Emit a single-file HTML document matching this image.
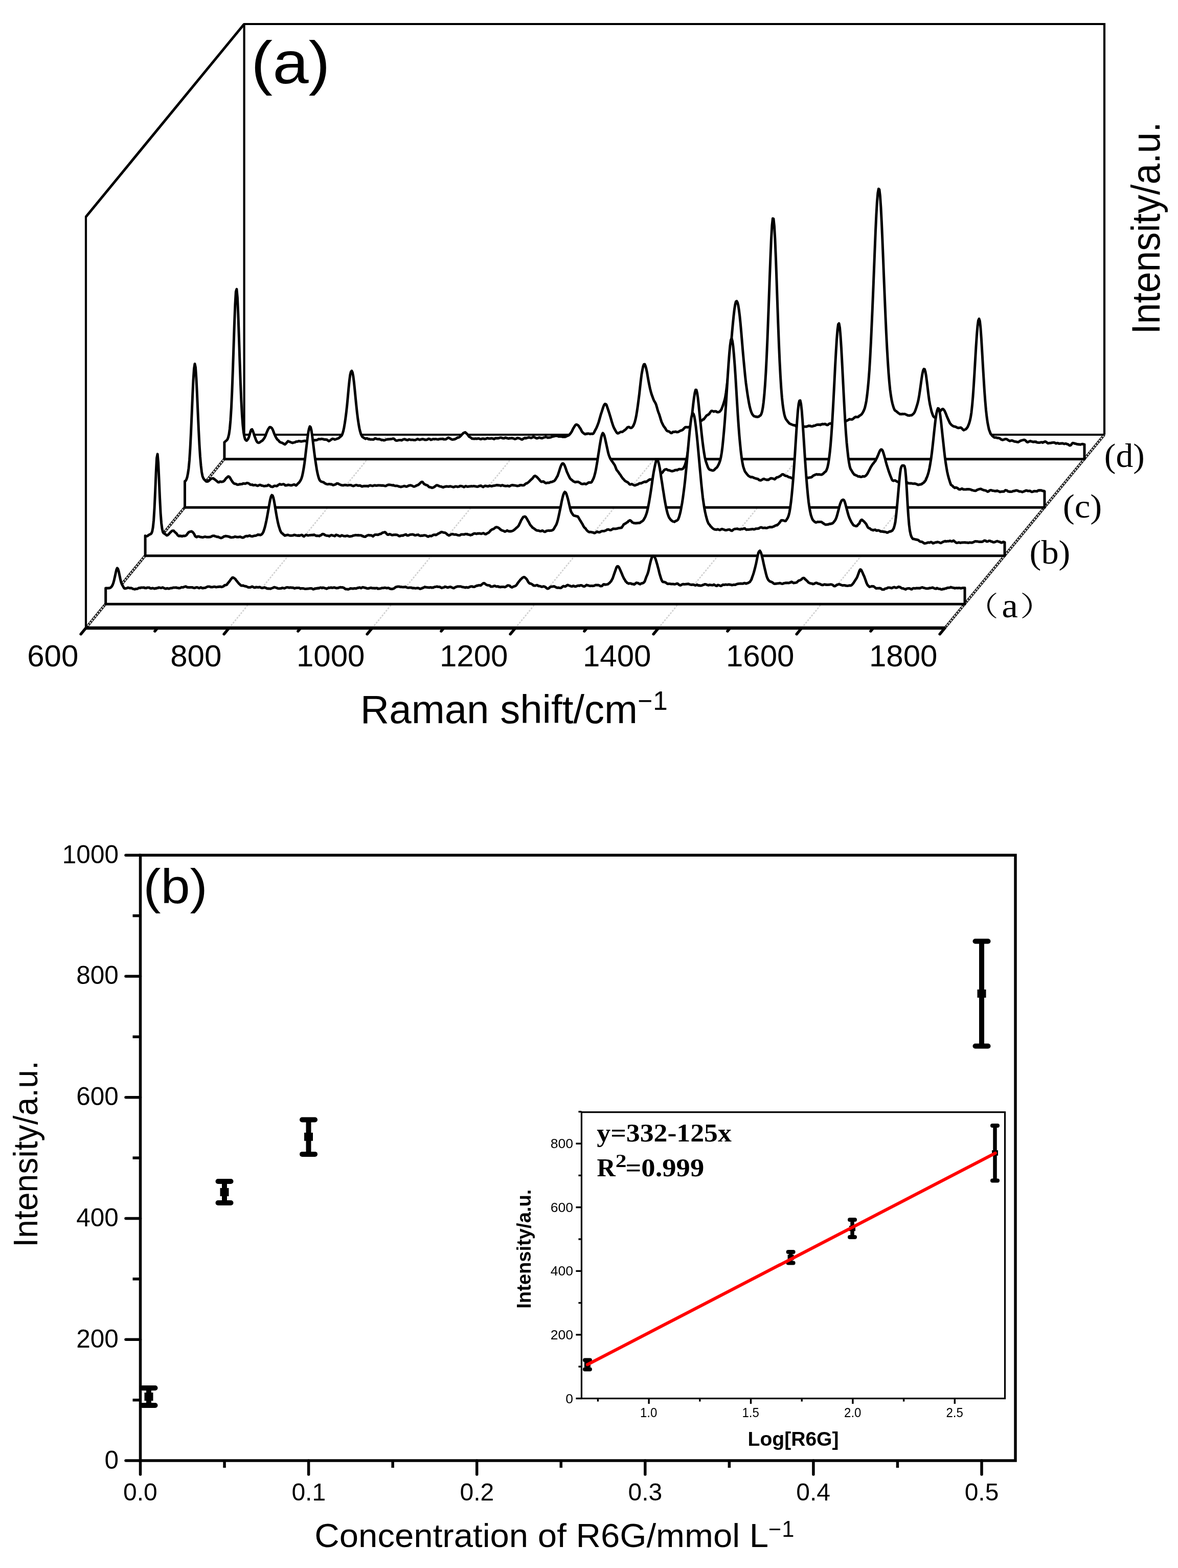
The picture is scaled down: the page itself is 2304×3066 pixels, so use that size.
<!DOCTYPE html>
<html><head><meta charset="utf-8"><title>Figure</title>
<style>html,body{margin:0;padding:0;background:#fff;}svg{display:block;}</style></head>
<body><svg width="2304" height="3066" viewBox="0 0 2304 3066">
<rect width="2304" height="3066" fill="#fff"/>
<polyline points="168.0,1228.0 168.0,424 477.6,47.0 2160.0,47.0 2160.0,850.0" fill="none" stroke="#000" stroke-width="4.2" stroke-linejoin="miter"/>
<line x1="168.00" y1="424.00" x2="477.60" y2="47.00" stroke="#000" stroke-width="5.0" stroke-linecap="butt" />
<line x1="477.60" y1="47.00" x2="477.60" y2="850.00" stroke="#000" stroke-width="4.2" stroke-linecap="butt" />
<line x1="448.00" y1="1228.00" x2="758.00" y2="850.00" stroke="#d0d0d0" stroke-width="2.6" stroke-linecap="butt" stroke-dasharray="3.5 2.5"/>
<line x1="728.00" y1="1228.00" x2="1038.40" y2="850.00" stroke="#d0d0d0" stroke-width="2.6" stroke-linecap="butt" stroke-dasharray="3.5 2.5"/>
<line x1="1008.00" y1="1228.00" x2="1318.80" y2="850.00" stroke="#d0d0d0" stroke-width="2.6" stroke-linecap="butt" stroke-dasharray="3.5 2.5"/>
<line x1="1288.00" y1="1228.00" x2="1599.20" y2="850.00" stroke="#d0d0d0" stroke-width="2.6" stroke-linecap="butt" stroke-dasharray="3.5 2.5"/>
<line x1="1568.00" y1="1228.00" x2="1879.60" y2="850.00" stroke="#d0d0d0" stroke-width="2.6" stroke-linecap="butt" stroke-dasharray="3.5 2.5"/>
<line x1="168.00" y1="1228.00" x2="477.60" y2="850.00" stroke="#000" stroke-width="5" stroke-linecap="butt" />
<line x1="168.00" y1="1228.00" x2="477.60" y2="850.00" stroke="#d2d2d2" stroke-width="3.0" stroke-linecap="butt" stroke-dasharray="3.5 2.2"/>
<line x1="1848.00" y1="1228.00" x2="2160.00" y2="850.00" stroke="#000" stroke-width="5" stroke-linecap="butt" />
<line x1="1848.00" y1="1228.00" x2="2160.00" y2="850.00" stroke="#d2d2d2" stroke-width="3.0" stroke-linecap="butt" stroke-dasharray="3.5 2.2"/>
<line x1="477.60" y1="850.00" x2="2160.00" y2="850.00" stroke="#000" stroke-width="4.2" stroke-linecap="butt" />
<path d="M438.9,897.8 L438.9,864.9 440.4,863.5 441.9,862.1 443.4,860.9 444.9,859.2 446.4,855.1 447.9,849.0 449.4,838.3 450.9,821.5 452.4,797.5 453.9,764.5 455.4,724.2 456.9,679.3 458.4,634.1 459.9,596.0 461.4,570.2 462.9,565.4 464.4,581.7 465.9,615.5 467.4,659.3 468.9,705.6 470.4,749.0 471.9,784.0 473.4,811.5 474.9,831.6 476.4,845.3 477.9,853.6 479.4,858.8 480.9,860.9 482.4,861.6 483.9,860.0 485.4,858.0 486.9,854.5 488.4,849.2 489.9,844.0 491.4,840.2 492.9,839.5 494.4,842.4 495.9,846.5 497.4,851.3 498.9,855.4 500.4,859.4 501.9,862.8 503.4,864.8 504.9,865.7 506.4,865.7 507.9,865.0 509.4,863.9 510.9,862.8 512.4,862.1 513.9,860.7 515.4,858.7 516.9,856.7 518.4,853.9 519.9,850.4 521.4,846.2 522.9,842.7 524.4,839.4 525.9,837.3 527.4,835.3 528.9,835.2 530.4,836.1 531.9,837.4 533.4,840.1 534.9,844.0 536.4,848.0 537.9,851.4 539.4,854.6 540.9,857.2 542.4,859.4 543.9,860.3 545.4,862.2 546.9,864.0 548.4,864.7 549.9,865.4 551.4,865.7 552.9,866.5 554.4,867.5 555.9,868.2 557.4,869.0 558.9,867.6 560.4,866.0 561.9,864.2 563.4,862.6 564.9,863.4 566.4,863.7 567.9,864.4 569.4,865.1 570.9,865.5 572.4,866.1 573.9,865.4 575.4,865.1 576.9,864.8 578.4,863.9 579.9,863.4 581.4,863.6 582.9,862.9 584.4,862.5 585.9,862.7 587.4,862.8 588.9,863.3 590.4,863.1 591.9,862.7 593.4,862.5 594.9,862.1 596.4,862.1 597.9,862.5 599.4,862.1 600.9,862.6 602.4,861.9 603.9,861.5 605.4,861.0 606.9,860.8 608.4,860.8 609.9,860.5 611.4,860.2 612.9,860.7 614.4,861.2 615.9,860.6 617.4,860.8 618.9,860.5 620.4,860.1 621.9,859.3 623.4,858.6 624.9,858.8 626.4,858.8 627.9,858.3 629.4,858.3 630.9,858.4 632.4,858.9 633.9,859.4 635.4,859.2 636.9,859.7 638.4,859.6 639.9,860.0 641.4,861.3 642.9,862.5 644.4,862.1 645.9,860.9 647.4,859.8 648.9,858.7 650.4,857.9 651.9,858.3 653.4,858.7 654.9,859.4 656.4,859.0 657.9,858.5 659.4,857.9 660.9,857.4 662.4,856.7 663.9,855.5 665.4,854.0 666.9,853.1 668.4,851.4 669.9,847.9 671.4,843.1 672.9,836.2 674.4,827.4 675.9,817.1 677.4,805.2 678.9,791.5 680.4,775.4 681.9,758.8 683.4,744.1 684.9,732.8 686.4,727.0 687.9,725.2 689.4,728.2 690.9,735.8 692.4,747.7 693.9,762.6 695.4,778.1 696.9,792.9 698.4,807.0 699.9,818.9 701.4,829.0 702.9,837.5 704.4,843.8 705.9,848.7 707.4,851.9 708.9,854.4 710.4,855.2 711.9,856.4 713.4,857.1 714.9,858.1 716.4,857.2 717.9,857.1 719.4,857.9 720.9,858.9 722.4,858.5 723.9,859.2 725.4,859.2 726.9,859.2 728.4,859.2 729.9,859.6 731.4,858.9 732.9,857.4 734.4,857.1 735.9,858.0 737.4,858.4 738.9,858.7 740.4,858.7 741.9,858.4 743.4,859.2 744.9,859.7 746.4,860.5 747.9,860.1 749.4,860.5 750.9,861.1 752.4,860.8 753.9,860.2 755.4,859.3 756.9,859.3 758.4,858.8 759.9,858.9 761.4,858.7 762.9,858.8 764.4,858.5 765.9,858.5 767.4,858.0 768.9,857.6 770.4,858.0 771.9,859.1 773.4,860.8 774.9,861.5 776.4,861.5 777.9,861.1 779.4,860.8 780.9,860.6 782.4,860.5 783.9,860.5 785.4,861.1 786.9,860.3 788.4,859.3 789.9,858.9 791.4,858.8 792.9,859.1 794.4,860.0 795.9,860.3 797.4,860.7 798.9,859.6 800.4,859.2 801.9,859.7 803.4,859.9 804.9,860.1 806.4,860.0 807.9,859.9 809.4,860.6 810.9,860.5 812.4,860.4 813.9,859.8 815.4,858.9 816.9,858.3 818.4,859.2 819.9,859.7 821.4,859.9 822.9,859.3 824.4,859.1 825.9,858.6 827.4,858.7 828.9,858.9 830.4,859.9 831.9,859.8 833.4,860.0 834.9,859.7 836.4,859.1 837.9,857.9 839.4,858.2 840.9,858.6 842.4,859.9 843.9,859.7 845.4,859.1 846.9,858.6 848.4,858.6 849.9,858.9 851.4,858.4 852.9,858.6 854.4,858.9 855.9,859.1 857.4,859.2 858.9,858.5 860.4,858.6 861.9,858.2 863.4,858.2 864.9,858.3 866.4,858.1 867.9,859.1 869.4,858.9 870.9,859.1 872.4,858.8 873.9,857.7 875.4,856.6 876.9,855.8 878.4,856.4 879.9,857.2 881.4,858.0 882.9,859.1 884.4,859.4 885.9,859.6 887.4,858.9 888.9,859.1 890.4,858.3 891.9,857.7 893.4,856.6 894.9,855.6 896.4,855.6 897.9,855.0 899.4,854.0 900.9,852.5 902.4,851.0 903.9,849.2 905.4,847.7 906.9,846.3 908.4,845.9 909.9,845.3 911.4,846.8 912.9,848.0 914.4,849.5 915.9,851.6 917.4,853.7 918.9,854.5 920.4,855.5 921.9,856.5 923.4,857.8 924.9,857.8 926.4,858.0 927.9,857.8 929.4,857.9 930.9,857.5 932.4,858.1 933.9,857.6 935.4,857.3 936.9,857.5 938.4,858.1 939.9,858.7 941.4,858.6 942.9,857.8 944.4,857.7 945.9,857.7 947.4,858.5 948.9,858.2 950.4,858.0 951.9,857.2 953.4,856.7 954.9,857.0 956.4,857.6 957.9,857.5 959.4,857.5 960.9,856.9 962.4,857.2 963.9,857.5 965.4,858.2 966.9,858.4 968.4,857.0 969.9,856.7 971.4,856.9 972.9,856.7 974.4,857.0 975.9,856.6 977.4,855.9 978.9,855.8 980.4,855.8 981.9,856.3 983.4,856.9 984.9,857.0 986.4,856.9 987.9,856.0 989.4,855.7 990.9,856.8 992.4,856.8 993.9,857.4 995.4,857.5 996.9,856.8 998.4,856.9 999.9,856.8 1001.4,856.6 1002.9,857.0 1004.4,857.3 1005.9,858.2 1007.4,858.4 1008.9,858.1 1010.4,857.2 1011.9,856.3 1013.4,856.8 1014.9,856.8 1016.4,857.5 1017.9,858.0 1019.4,859.1 1020.9,859.4 1022.4,858.7 1023.9,857.5 1025.4,857.1 1026.9,856.0 1028.4,857.1 1029.9,856.3 1031.4,855.9 1032.9,855.7 1034.4,855.1 1035.9,855.6 1037.4,856.0 1038.9,856.3 1040.4,855.9 1041.9,854.7 1043.4,854.5 1044.9,854.8 1046.4,855.5 1047.9,856.3 1049.4,857.1 1050.9,856.9 1052.4,856.4 1053.9,855.8 1055.4,855.5 1056.9,856.2 1058.4,856.4 1059.9,856.9 1061.4,856.4 1062.9,855.8 1064.4,855.2 1065.9,854.9 1067.4,854.5 1068.9,854.9 1070.4,855.2 1071.9,856.0 1073.4,855.5 1074.9,855.4 1076.4,855.2 1077.9,854.9 1079.4,854.1 1080.9,853.7 1082.4,853.3 1083.9,853.1 1085.4,852.7 1086.9,852.3 1088.4,852.1 1089.9,852.5 1091.4,853.0 1092.9,853.6 1094.4,853.4 1095.9,853.5 1097.4,853.3 1098.9,853.9 1100.4,854.2 1101.9,854.0 1103.4,854.3 1104.9,854.3 1106.4,853.9 1107.9,853.0 1109.4,852.3 1110.9,851.9 1112.4,851.0 1113.9,849.8 1115.4,847.9 1116.9,845.9 1118.4,843.6 1119.9,840.4 1121.4,837.4 1122.9,835.1 1124.4,832.5 1125.9,830.7 1127.4,830.0 1128.9,830.6 1130.4,831.4 1131.9,832.9 1133.4,835.6 1134.9,837.5 1136.4,840.3 1137.9,843.4 1139.4,845.4 1140.9,846.7 1142.4,847.9 1143.9,848.8 1145.4,848.9 1146.9,848.0 1148.4,848.4 1149.9,847.6 1151.4,847.9 1152.9,848.2 1154.4,848.7 1155.9,848.2 1157.4,848.0 1158.9,848.5 1160.4,847.9 1161.9,845.7 1163.4,842.6 1164.9,839.8 1166.4,837.1 1167.9,833.6 1169.4,829.7 1170.9,825.5 1172.4,820.2 1173.9,814.9 1175.4,809.6 1176.9,805.2 1178.4,800.4 1179.9,795.9 1181.4,792.2 1182.9,790.1 1184.4,790.0 1185.9,791.2 1187.4,795.2 1188.9,799.6 1190.4,804.1 1191.9,808.8 1193.4,813.8 1194.9,818.8 1196.4,824.0 1197.9,828.7 1199.4,833.3 1200.9,836.7 1202.4,839.5 1203.9,842.3 1205.4,844.8 1206.9,846.8 1208.4,847.4 1209.9,847.1 1211.4,845.8 1212.9,845.2 1214.4,844.4 1215.9,844.6 1217.4,844.4 1218.9,843.3 1220.4,842.1 1221.9,841.1 1223.4,839.9 1224.9,838.4 1226.4,836.4 1227.9,835.4 1229.4,835.0 1230.9,835.3 1232.4,836.3 1233.9,836.8 1235.4,836.4 1236.9,835.1 1238.4,833.1 1239.9,829.8 1241.4,825.8 1242.9,820.2 1244.4,813.1 1245.9,804.0 1247.4,793.8 1248.9,782.4 1250.4,770.6 1251.9,756.8 1253.4,743.8 1254.9,732.0 1256.4,723.5 1257.9,716.2 1259.4,712.5 1260.9,712.1 1262.4,715.5 1263.9,720.8 1265.4,727.7 1266.9,736.6 1268.4,745.0 1269.9,752.7 1271.4,759.8 1272.9,765.7 1274.4,771.0 1275.9,775.0 1277.4,779.2 1278.9,782.9 1280.4,785.5 1281.9,788.1 1283.4,791.6 1284.9,796.7 1286.4,802.3 1287.9,806.6 1289.4,810.4 1290.9,815.3 1292.4,820.3 1293.9,825.0 1295.4,828.1 1296.9,831.2 1298.4,833.9 1299.9,835.7 1301.4,837.8 1302.9,840.5 1304.4,842.3 1305.9,843.2 1307.4,843.3 1308.9,843.8 1310.4,845.1 1311.9,846.6 1313.4,846.8 1314.9,845.8 1316.4,844.4 1317.9,844.5 1319.4,844.6 1320.9,843.9 1322.4,844.2 1323.9,844.9 1325.4,844.8 1326.9,844.6 1328.4,843.4 1329.9,842.7 1331.4,841.8 1332.9,841.7 1334.4,840.9 1335.9,840.0 1337.4,838.1 1338.9,836.7 1340.4,835.2 1341.9,835.2 1343.4,835.3 1344.9,835.5 1346.4,835.2 1347.9,834.9 1349.4,834.4 1350.9,833.4 1352.4,833.2 1353.9,832.6 1355.4,831.6 1356.9,831.0 1358.4,829.8 1359.9,829.4 1361.4,828.8 1362.9,827.9 1364.4,827.3 1365.9,826.5 1367.4,825.1 1368.9,824.4 1370.4,823.4 1371.9,822.4 1373.4,821.7 1374.9,820.1 1376.4,819.9 1377.9,817.9 1379.4,815.9 1380.9,813.9 1382.4,812.1 1383.9,811.7 1385.4,810.5 1386.9,809.6 1388.4,807.2 1389.9,805.1 1391.4,803.5 1392.9,803.5 1394.4,804.0 1395.9,805.0 1397.4,804.3 1398.9,804.3 1400.4,804.2 1401.9,805.5 1403.4,805.9 1404.9,806.0 1406.4,805.5 1407.9,804.6 1409.4,802.8 1410.9,800.7 1412.4,796.9 1413.9,793.0 1415.4,788.2 1416.9,783.6 1418.4,777.4 1419.9,768.1 1421.4,756.7 1422.9,744.1 1424.4,730.5 1425.9,716.5 1427.4,700.7 1428.9,684.4 1430.4,666.7 1431.9,649.3 1433.4,633.0 1434.9,618.0 1436.4,605.0 1437.9,595.3 1439.4,589.6 1440.9,588.8 1442.4,591.5 1443.9,597.1 1445.4,606.7 1446.9,618.9 1448.4,633.9 1449.9,651.0 1451.4,669.0 1452.9,687.0 1454.4,703.6 1455.9,719.6 1457.4,734.9 1458.9,748.6 1460.4,759.7 1461.9,770.2 1463.4,779.4 1464.9,788.0 1466.4,795.4 1467.9,801.1 1469.4,805.7 1470.9,809.1 1472.4,811.4 1473.9,813.1 1475.4,814.1 1476.9,814.3 1478.4,815.1 1479.9,814.8 1481.4,815.3 1482.9,815.1 1484.4,814.4 1485.9,813.0 1487.4,812.2 1488.9,809.7 1490.4,805.2 1491.9,797.8 1493.4,786.6 1494.9,771.6 1496.4,752.2 1497.9,728.4 1499.4,699.1 1500.9,664.5 1502.4,625.7 1503.9,585.1 1505.4,542.9 1506.9,503.4 1508.4,467.8 1509.9,441.3 1511.4,427.2 1512.9,427.8 1514.4,442.0 1515.9,467.7 1517.4,503.5 1518.9,545.4 1520.4,589.7 1521.9,632.3 1523.4,671.6 1524.9,706.4 1526.4,735.2 1527.9,759.0 1529.4,777.5 1530.9,791.4 1532.4,801.8 1533.9,809.8 1535.4,815.4 1536.9,819.1 1538.4,821.2 1539.9,823.1 1541.4,825.2 1542.9,826.9 1544.4,828.3 1545.9,829.0 1547.4,829.6 1548.9,830.3 1550.4,830.9 1551.9,831.2 1553.4,831.7 1554.9,831.6 1556.4,832.9 1557.9,834.4 1559.4,834.7 1560.9,834.9 1562.4,835.0 1563.9,835.5 1565.4,834.6 1566.9,833.4 1568.4,833.5 1569.9,833.2 1571.4,833.8 1572.9,834.2 1574.4,834.3 1575.9,834.3 1577.4,834.2 1578.9,833.7 1580.4,833.2 1581.9,832.5 1583.4,832.9 1584.9,832.8 1586.4,833.6 1587.9,833.7 1589.4,833.6 1590.9,832.6 1592.4,832.5 1593.9,832.3 1595.4,831.4 1596.9,830.9 1598.4,830.4 1599.9,830.2 1601.4,830.5 1602.9,830.3 1604.4,831.0 1605.9,829.8 1607.4,829.9 1608.9,828.9 1610.4,829.6 1611.9,829.3 1613.4,829.0 1614.9,829.2 1616.4,830.7 1617.9,831.1 1619.4,830.7 1620.9,829.1 1622.4,828.5 1623.9,827.9 1625.4,828.5 1626.9,828.9 1628.4,828.5 1629.9,827.9 1631.4,827.5 1632.9,827.9 1634.4,828.0 1635.9,827.7 1637.4,827.5 1638.9,827.1 1640.4,827.8 1641.9,827.8 1643.4,827.7 1644.9,827.1 1646.4,826.3 1647.9,826.0 1649.4,825.5 1650.9,825.5 1652.4,825.0 1653.9,823.9 1655.4,823.1 1656.9,822.3 1658.4,821.4 1659.9,820.7 1661.4,819.6 1662.9,820.1 1664.4,820.1 1665.9,820.3 1667.4,819.8 1668.9,818.6 1670.4,817.2 1671.9,816.0 1673.4,815.0 1674.9,815.6 1676.4,815.2 1677.9,815.5 1679.4,814.6 1680.9,812.9 1682.4,812.3 1683.9,811.0 1685.4,809.9 1686.9,807.7 1688.4,805.1 1689.9,801.9 1691.4,797.8 1692.9,791.7 1694.4,784.2 1695.9,773.2 1697.4,759.8 1698.9,743.4 1700.4,723.5 1701.9,698.4 1703.4,669.4 1704.9,636.6 1706.4,602.6 1707.9,566.3 1709.4,528.2 1710.9,490.1 1712.4,453.0 1713.9,420.7 1715.4,394.6 1716.9,377.3 1718.4,369.2 1719.9,370.8 1721.4,383.4 1722.9,405.4 1724.4,435.0 1725.9,469.9 1727.4,507.0 1728.9,545.5 1730.4,582.6 1731.9,618.3 1733.4,651.5 1734.9,680.6 1736.4,706.2 1737.9,728.7 1739.4,746.9 1740.9,762.0 1742.4,773.0 1743.9,782.1 1745.4,788.8 1746.9,794.2 1748.4,798.7 1749.9,801.9 1751.4,803.3 1752.9,804.0 1754.4,805.5 1755.9,806.6 1757.4,808.0 1758.9,808.7 1760.4,809.9 1761.9,809.6 1763.4,809.9 1764.9,809.2 1766.4,809.8 1767.9,809.4 1769.4,809.4 1770.9,810.1 1772.4,810.8 1773.9,811.4 1775.4,812.2 1776.9,812.3 1778.4,812.7 1779.9,812.2 1781.4,812.1 1782.9,812.1 1784.4,810.9 1785.9,809.7 1787.4,808.1 1788.9,805.7 1790.4,802.1 1791.9,797.7 1793.4,792.9 1794.9,788.0 1796.4,781.4 1797.9,772.9 1799.4,762.9 1800.9,752.0 1802.4,741.1 1803.9,731.6 1805.4,724.7 1806.9,721.6 1808.4,722.0 1809.9,726.7 1811.4,735.2 1812.9,746.7 1814.4,759.0 1815.9,771.6 1817.4,782.6 1818.9,791.2 1820.4,797.8 1821.9,804.2 1823.4,808.9 1824.9,813.0 1826.4,815.1 1827.9,816.2 1829.4,816.5 1830.9,815.9 1832.4,814.2 1833.9,812.1 1835.4,809.0 1836.9,807.3 1838.4,804.8 1839.9,802.9 1841.4,801.3 1842.9,800.0 1844.4,799.7 1845.9,801.3 1847.4,803.3 1848.9,806.5 1850.4,810.0 1851.9,814.1 1853.4,817.6 1854.9,820.9 1856.4,824.1 1857.9,827.4 1859.4,829.3 1860.9,830.9 1862.4,832.0 1863.9,833.0 1865.4,833.7 1866.9,834.0 1868.4,834.4 1869.9,834.9 1871.4,835.7 1872.9,836.4 1874.4,836.9 1875.9,836.6 1877.4,836.5 1878.9,835.9 1880.4,836.8 1881.9,838.4 1883.4,840.1 1884.9,841.2 1886.4,840.3 1887.9,839.7 1889.4,839.0 1890.9,837.1 1892.4,835.2 1893.9,831.9 1895.4,828.0 1896.9,823.0 1898.4,816.3 1899.9,806.8 1901.4,793.1 1902.9,775.7 1904.4,754.4 1905.9,730.1 1907.4,704.3 1908.9,678.9 1910.4,656.5 1911.9,638.1 1913.4,626.8 1914.9,623.4 1916.4,627.7 1917.9,641.6 1919.4,662.8 1920.9,688.1 1922.4,714.6 1923.9,739.4 1925.4,763.7 1926.9,783.9 1928.4,801.3 1929.9,814.7 1931.4,825.5 1932.9,833.2 1934.4,840.1 1935.9,844.0 1937.4,848.0 1938.9,849.8 1940.4,851.9 1941.9,853.2 1943.4,854.4 1944.9,855.5 1946.4,855.5 1947.9,855.4 1949.4,856.0 1950.9,856.4 1952.4,856.3 1953.9,856.6 1955.4,857.1 1956.9,858.4 1958.4,859.4 1959.9,860.1 1961.4,860.3 1962.9,859.7 1964.4,859.2 1965.9,858.6 1967.4,858.6 1968.9,858.7 1970.4,859.7 1971.9,860.6 1973.4,861.6 1974.9,862.3 1976.4,861.9 1977.9,861.5 1979.4,861.3 1980.9,861.8 1982.4,862.7 1983.9,863.0 1985.4,863.6 1986.9,863.6 1988.4,864.0 1989.9,864.3 1991.4,864.6 1992.9,863.7 1994.4,862.9 1995.9,861.7 1997.4,861.5 1998.9,860.9 2000.4,860.6 2001.9,860.2 2003.4,860.1 2004.9,860.6 2006.4,862.0 2007.9,863.7 2009.4,864.7 2010.9,864.4 2012.4,863.4 2013.9,863.0 2015.4,862.3 2016.9,863.2 2018.4,863.3 2019.9,864.1 2021.4,864.2 2022.9,863.5 2024.4,864.1 2025.9,863.6 2027.4,865.0 2028.9,865.1 2030.4,865.5 2031.9,865.5 2033.4,865.6 2034.9,864.9 2036.4,864.8 2037.9,864.8 2039.4,865.6 2040.9,864.5 2042.4,864.2 2043.9,863.3 2045.4,863.7 2046.9,864.8 2048.4,866.0 2049.9,867.0 2051.4,866.5 2052.9,866.2 2054.4,866.3 2055.9,866.1 2057.4,865.6 2058.9,865.4 2060.4,865.3 2061.9,865.3 2063.4,865.8 2064.9,867.0 2066.4,867.1 2067.9,866.3 2069.4,866.4 2070.9,867.4 2072.4,867.5 2073.9,867.0 2075.4,867.2 2076.9,866.8 2078.4,866.9 2079.9,867.4 2081.4,868.1 2082.9,867.7 2084.4,867.3 2085.9,867.8 2087.4,868.6 2088.9,868.8 2090.4,869.9 2091.9,871.1 2093.4,871.0 2094.9,870.0 2096.4,867.6 2097.9,866.3 2099.4,866.5 2100.9,866.7 2102.4,867.5 2103.9,867.4 2105.4,868.2 2106.9,868.4 2108.4,868.9 2109.9,868.7 2111.4,869.0 2112.9,869.4 2114.4,868.8 2115.9,868.4 2117.4,868.2 2118.9,868.7 2121.0,869.0 L2121.0,897.8 Z" fill="#fff" stroke="#000" stroke-width="5.0" stroke-linejoin="round"/>
<path d="M361.5,992.3 L361.5,940.9 363.0,940.4 364.5,937.7 366.0,933.4 367.5,926.1 369.0,915.8 370.5,899.9 372.0,876.7 373.5,846.7 375.0,811.6 376.5,776.0 378.0,744.0 379.5,721.1 381.0,711.5 382.5,718.6 384.0,740.9 385.5,771.5 387.0,806.5 388.5,840.1 390.0,869.7 391.5,893.0 393.0,910.2 394.5,922.9 396.0,930.8 397.5,934.6 399.0,937.3 400.5,938.4 402.0,940.3 403.5,941.4 405.0,941.5 406.5,941.5 408.0,940.5 409.5,939.2 411.0,937.7 412.5,936.3 414.0,935.8 415.5,935.4 417.0,935.3 418.5,936.5 420.0,937.4 421.5,938.7 423.0,939.8 424.5,941.1 426.0,942.6 427.5,943.0 429.0,942.7 430.5,941.6 432.0,941.9 433.5,942.3 435.0,941.9 436.5,941.5 438.0,940.6 439.5,939.0 441.0,936.9 442.5,934.8 444.0,933.9 445.5,932.1 447.0,931.6 448.5,932.4 450.0,934.3 451.5,937.1 453.0,939.5 454.5,941.9 456.0,943.8 457.5,945.3 459.0,945.9 460.5,946.1 462.0,946.4 463.5,947.5 465.0,947.8 466.5,947.6 468.0,947.1 469.5,946.6 471.0,947.0 472.5,946.5 474.0,946.4 475.5,945.3 477.0,945.4 478.5,945.7 480.0,945.8 481.5,944.8 483.0,944.4 484.5,944.4 486.0,945.2 487.5,945.8 489.0,947.3 490.5,947.8 492.0,947.9 493.5,947.6 495.0,948.8 496.5,948.8 498.0,948.6 499.5,948.3 501.0,948.9 502.5,949.5 504.0,949.9 505.5,949.3 507.0,948.6 508.5,948.1 510.0,948.4 511.5,949.5 513.0,949.5 514.5,950.0 516.0,950.4 517.5,950.6 519.0,950.1 520.5,950.1 522.0,949.9 523.5,949.2 525.0,948.0 526.5,949.0 528.0,949.8 529.5,951.4 531.0,951.6 532.5,952.0 534.0,951.7 535.5,950.5 537.0,949.9 538.5,950.1 540.0,950.2 541.5,950.4 543.0,949.4 544.5,948.0 546.0,947.4 547.5,946.5 549.0,947.5 550.5,947.5 552.0,947.2 553.5,946.8 555.0,946.7 556.5,947.8 558.0,949.2 559.5,948.9 561.0,948.9 562.5,948.2 564.0,948.0 565.5,948.4 567.0,948.6 568.5,949.0 570.0,949.1 571.5,948.5 573.0,948.1 574.5,947.4 576.0,947.4 577.5,948.6 579.0,949.2 580.5,948.0 582.0,946.3 583.5,944.8 585.0,943.5 586.5,941.4 588.0,939.0 589.5,935.8 591.0,931.0 592.5,924.1 594.0,915.8 595.5,905.9 597.0,894.0 598.5,880.9 600.0,868.2 601.5,855.3 603.0,845.3 604.5,838.0 606.0,833.9 607.5,835.3 609.0,841.1 610.5,851.1 612.0,862.9 613.5,875.1 615.0,887.2 616.5,898.2 618.0,908.1 619.5,917.7 621.0,925.4 622.5,931.5 624.0,936.2 625.5,939.3 627.0,940.9 628.5,941.8 630.0,942.2 631.5,942.8 633.0,943.0 634.5,944.5 636.0,945.3 637.5,946.1 639.0,946.6 640.5,946.9 642.0,946.8 643.5,946.5 645.0,946.4 646.5,947.1 648.0,946.8 649.5,947.5 651.0,948.4 652.5,948.4 654.0,947.8 655.5,947.3 657.0,946.8 658.5,945.5 660.0,945.3 661.5,945.7 663.0,946.6 664.5,947.4 666.0,947.8 667.5,948.7 669.0,948.7 670.5,949.1 672.0,948.9 673.5,948.4 675.0,948.3 676.5,948.4 678.0,948.7 679.5,949.1 681.0,949.0 682.5,948.5 684.0,948.4 685.5,948.5 687.0,948.8 688.5,949.6 690.0,950.0 691.5,950.3 693.0,949.6 694.5,949.0 696.0,948.5 697.5,948.4 699.0,949.2 700.5,949.7 702.0,949.4 703.5,949.2 705.0,949.7 706.5,950.5 708.0,951.3 709.5,950.8 711.0,950.7 712.5,950.2 714.0,950.4 715.5,950.2 717.0,950.4 718.5,950.3 720.0,950.9 721.5,949.8 723.0,949.4 724.5,949.0 726.0,949.5 727.5,950.0 729.0,950.0 730.5,949.6 732.0,949.0 733.5,948.9 735.0,949.5 736.5,949.6 738.0,949.3 739.5,949.0 741.0,949.1 742.5,949.1 744.0,949.2 745.5,949.1 747.0,949.6 748.5,949.1 750.0,949.5 751.5,949.8 753.0,950.2 754.5,950.2 756.0,949.5 757.5,948.5 759.0,948.1 760.5,947.8 762.0,948.1 763.5,948.1 765.0,948.4 766.5,948.7 768.0,949.1 769.5,948.6 771.0,949.5 772.5,950.0 774.0,950.0 775.5,949.9 777.0,950.0 778.5,950.5 780.0,951.2 781.5,951.2 783.0,951.9 784.5,952.1 786.0,951.5 787.5,951.2 789.0,950.8 790.5,950.2 792.0,950.6 793.5,951.1 795.0,951.6 796.5,951.0 798.0,950.3 799.5,949.4 801.0,949.3 802.5,948.8 804.0,949.2 805.5,949.6 807.0,950.4 808.5,951.1 810.0,951.5 811.5,951.0 813.0,950.3 814.5,949.5 816.0,948.7 817.5,948.3 819.0,947.3 820.5,945.9 822.0,944.5 823.5,942.9 825.0,942.2 826.5,942.4 828.0,944.4 829.5,946.4 831.0,947.1 832.5,948.0 834.0,948.4 835.5,948.8 837.0,950.0 838.5,951.6 840.0,952.6 841.5,952.8 843.0,953.0 844.5,953.8 846.0,953.7 847.5,953.1 849.0,952.4 850.5,951.4 852.0,950.1 853.5,949.0 855.0,948.8 856.5,949.3 858.0,950.0 859.5,950.8 861.0,951.2 862.5,951.2 864.0,952.0 865.5,952.2 867.0,953.0 868.5,952.0 870.0,951.8 871.5,951.3 873.0,951.1 874.5,951.2 876.0,951.3 877.5,951.6 879.0,951.1 880.5,950.8 882.0,951.2 883.5,951.6 885.0,951.9 886.5,952.4 888.0,952.2 889.5,951.5 891.0,951.1 892.5,951.2 894.0,951.6 895.5,952.0 897.0,951.5 898.5,951.2 900.0,950.2 901.5,950.5 903.0,950.5 904.5,951.1 906.0,951.8 907.5,952.4 909.0,951.5 910.5,950.5 912.0,950.8 913.5,951.3 915.0,951.7 916.5,951.2 918.0,951.1 919.5,951.1 921.0,950.7 922.5,950.6 924.0,950.9 925.5,950.6 927.0,950.4 928.5,950.8 930.0,951.0 931.5,951.2 933.0,951.8 934.5,951.6 936.0,951.0 937.5,950.0 939.0,950.2 940.5,949.6 942.0,950.4 943.5,951.6 945.0,952.3 946.5,951.1 948.0,950.2 949.5,949.9 951.0,950.4 952.5,950.6 954.0,951.1 955.5,950.8 957.0,949.8 958.5,950.1 960.0,950.3 961.5,950.8 963.0,950.4 964.5,949.8 966.0,949.8 967.5,949.6 969.0,949.0 970.5,948.9 972.0,948.4 973.5,948.9 975.0,948.8 976.5,948.9 978.0,949.3 979.5,950.0 981.0,948.9 982.5,948.8 984.0,949.0 985.5,950.0 987.0,950.0 988.5,950.4 990.0,950.3 991.5,950.3 993.0,949.7 994.5,950.4 996.0,950.9 997.5,950.2 999.0,949.3 1000.5,948.9 1002.0,948.5 1003.5,948.9 1005.0,948.8 1006.5,949.2 1008.0,949.2 1009.5,949.8 1011.0,950.0 1012.5,950.2 1014.0,949.8 1015.5,949.7 1017.0,948.6 1018.5,948.7 1020.0,948.5 1021.5,949.0 1023.0,948.9 1024.5,948.8 1026.0,947.8 1027.5,946.3 1029.0,945.3 1030.5,945.0 1032.0,944.1 1033.5,942.9 1035.0,941.6 1036.5,940.0 1038.0,938.5 1039.5,937.2 1041.0,935.9 1042.5,934.1 1044.0,932.0 1045.5,930.7 1047.0,930.6 1048.5,931.7 1050.0,932.7 1051.5,934.2 1053.0,936.0 1054.5,937.4 1056.0,939.6 1057.5,941.1 1059.0,942.1 1060.5,941.9 1062.0,941.5 1063.5,941.7 1065.0,943.2 1066.5,944.2 1068.0,944.8 1069.5,944.2 1071.0,943.9 1072.5,944.0 1074.0,943.9 1075.5,943.2 1077.0,942.5 1078.5,942.6 1080.0,942.1 1081.5,941.3 1083.0,941.0 1084.5,940.0 1086.0,938.1 1087.5,935.7 1089.0,933.1 1090.5,930.6 1092.0,926.3 1093.5,921.8 1095.0,916.9 1096.5,912.6 1098.0,909.1 1099.5,906.6 1101.0,906.1 1102.5,907.1 1104.0,909.5 1105.5,913.1 1107.0,917.4 1108.5,922.0 1110.0,925.3 1111.5,928.5 1113.0,931.6 1114.5,934.7 1116.0,936.6 1117.5,938.0 1119.0,938.9 1120.5,940.4 1122.0,941.6 1123.5,941.9 1125.0,942.9 1126.5,942.5 1128.0,942.2 1129.5,942.2 1131.0,942.3 1132.5,943.1 1134.0,943.9 1135.5,945.1 1137.0,946.0 1138.5,946.3 1140.0,946.4 1141.5,946.0 1143.0,945.7 1144.5,946.0 1146.0,946.8 1147.5,946.1 1149.0,945.0 1150.5,943.9 1152.0,943.3 1153.5,943.5 1155.0,943.4 1156.5,943.3 1158.0,941.2 1159.5,938.2 1161.0,935.1 1162.5,930.7 1164.0,925.2 1165.5,918.3 1167.0,909.6 1168.5,900.8 1170.0,890.7 1171.5,881.3 1173.0,871.4 1174.5,862.8 1176.0,854.7 1177.5,849.6 1179.0,846.8 1180.5,848.4 1182.0,851.8 1183.5,857.8 1185.0,864.6 1186.5,871.5 1188.0,878.4 1189.5,885.3 1191.0,890.4 1192.5,894.1 1194.0,897.4 1195.5,899.7 1197.0,902.0 1198.5,903.8 1200.0,906.3 1201.5,908.2 1203.0,911.2 1204.5,915.0 1206.0,918.8 1207.5,920.6 1209.0,922.6 1210.5,924.6 1212.0,926.9 1213.5,928.6 1215.0,931.3 1216.5,933.4 1218.0,935.5 1219.5,936.8 1221.0,938.6 1222.5,940.3 1224.0,941.1 1225.5,942.2 1227.0,942.7 1228.5,943.6 1230.0,945.5 1231.5,947.2 1233.0,947.3 1234.5,946.9 1236.0,946.5 1237.5,947.5 1239.0,948.1 1240.5,948.9 1242.0,949.1 1243.5,948.5 1245.0,947.7 1246.5,947.5 1248.0,946.8 1249.5,945.8 1251.0,945.1 1252.5,945.1 1254.0,945.0 1255.5,944.2 1257.0,943.6 1258.5,942.7 1260.0,942.4 1261.5,941.8 1263.0,942.5 1264.5,941.9 1266.0,940.8 1267.5,939.6 1269.0,938.6 1270.5,937.6 1272.0,937.7 1273.5,937.3 1275.0,937.2 1276.5,936.4 1278.0,935.6 1279.5,934.3 1281.0,932.8 1282.5,931.9 1284.0,930.9 1285.5,929.2 1287.0,928.3 1288.5,928.0 1290.0,928.0 1291.5,926.9 1293.0,926.1 1294.5,924.8 1296.0,923.6 1297.5,921.0 1299.0,919.5 1300.5,918.2 1302.0,917.8 1303.5,917.4 1305.0,918.5 1306.5,919.4 1308.0,919.5 1309.5,919.8 1311.0,920.4 1312.5,920.9 1314.0,921.2 1315.5,921.2 1317.0,920.7 1318.5,920.4 1320.0,919.3 1321.5,919.3 1323.0,918.9 1324.5,919.4 1326.0,918.5 1327.5,917.5 1329.0,917.3 1330.5,917.4 1332.0,917.5 1333.5,917.4 1335.0,916.9 1336.5,915.8 1338.0,913.0 1339.5,909.9 1341.0,905.4 1342.5,899.2 1344.0,891.5 1345.5,882.2 1347.0,871.0 1348.5,858.2 1350.0,845.0 1351.5,831.8 1353.0,817.1 1354.5,802.5 1356.0,788.8 1357.5,777.3 1359.0,767.9 1360.5,762.3 1362.0,762.5 1363.5,768.2 1365.0,778.2 1366.5,791.6 1368.0,806.9 1369.5,821.5 1371.0,835.7 1372.5,849.9 1374.0,863.0 1375.5,874.6 1377.0,884.8 1378.5,893.7 1380.0,900.2 1381.5,904.9 1383.0,909.2 1384.5,913.3 1386.0,916.3 1387.5,918.0 1389.0,918.7 1390.5,918.9 1392.0,919.6 1393.5,920.1 1395.0,920.0 1396.5,919.3 1398.0,917.7 1399.5,916.1 1401.0,915.0 1402.5,913.7 1404.0,911.1 1405.5,908.3 1407.0,904.8 1408.5,900.4 1410.0,894.0 1411.5,885.4 1413.0,873.9 1414.5,858.9 1416.0,842.7 1417.5,824.6 1419.0,804.1 1420.5,781.0 1422.0,756.8 1423.5,732.8 1425.0,710.8 1426.5,691.2 1428.0,675.5 1429.5,664.9 1431.0,661.7 1432.5,666.9 1434.0,677.7 1435.5,694.0 1437.0,713.4 1438.5,735.6 1440.0,760.3 1441.5,785.5 1443.0,810.3 1444.5,832.0 1446.0,851.7 1447.5,867.9 1449.0,882.9 1450.5,895.0 1452.0,904.2 1453.5,911.7 1455.0,916.4 1456.5,920.7 1458.0,923.4 1459.5,925.1 1461.0,927.3 1462.5,928.9 1464.0,930.6 1465.5,931.4 1467.0,932.2 1468.5,933.0 1470.0,932.8 1471.5,932.9 1473.0,933.5 1474.5,934.4 1476.0,934.9 1477.5,935.3 1479.0,935.9 1480.5,936.1 1482.0,936.5 1483.5,937.4 1485.0,938.8 1486.5,939.2 1488.0,939.3 1489.5,938.3 1491.0,937.9 1492.5,936.7 1494.0,936.3 1495.5,936.9 1497.0,937.6 1498.5,937.9 1500.0,938.4 1501.5,938.0 1503.0,938.3 1504.5,937.1 1506.0,936.1 1507.5,935.2 1509.0,935.2 1510.5,935.5 1512.0,936.0 1513.5,936.3 1515.0,937.2 1516.5,936.1 1518.0,934.3 1519.5,933.3 1521.0,933.2 1522.5,932.9 1524.0,931.7 1525.5,931.1 1527.0,930.2 1528.5,928.6 1530.0,927.4 1531.5,927.4 1533.0,928.4 1534.5,929.5 1536.0,930.3 1537.5,930.7 1539.0,930.7 1540.5,931.6 1542.0,932.7 1543.5,933.3 1545.0,933.3 1546.5,933.9 1548.0,934.8 1549.5,934.9 1551.0,935.6 1552.5,936.8 1554.0,938.3 1555.5,938.4 1557.0,937.7 1558.5,936.6 1560.0,934.7 1561.5,933.7 1563.0,933.1 1564.5,933.0 1566.0,933.7 1567.5,933.0 1569.0,933.7 1570.5,933.3 1572.0,932.8 1573.5,932.8 1575.0,932.9 1576.5,933.9 1578.0,933.9 1579.5,934.1 1581.0,934.4 1582.5,934.0 1584.0,933.5 1585.5,933.6 1587.0,933.2 1588.5,932.2 1590.0,930.5 1591.5,929.5 1593.0,929.1 1594.5,928.1 1596.0,927.8 1597.5,927.3 1599.0,927.9 1600.5,927.9 1602.0,927.5 1603.5,928.1 1605.0,928.1 1606.5,928.3 1608.0,927.7 1609.5,926.7 1611.0,925.3 1612.5,923.7 1614.0,922.6 1615.5,921.3 1617.0,918.0 1618.5,913.7 1620.0,906.8 1621.5,896.9 1623.0,884.9 1624.5,870.0 1626.0,850.9 1627.5,828.9 1629.0,802.7 1630.5,774.8 1632.0,745.7 1633.5,715.5 1635.0,688.6 1636.5,664.0 1638.0,645.2 1639.5,634.2 1641.0,632.5 1642.5,640.7 1644.0,657.7 1645.5,680.9 1647.0,709.1 1648.5,738.5 1650.0,768.2 1651.5,796.9 1653.0,823.6 1654.5,846.2 1656.0,865.4 1657.5,880.2 1659.0,893.4 1660.5,904.1 1662.0,912.0 1663.5,916.9 1665.0,919.2 1666.5,921.7 1668.0,924.4 1669.5,926.3 1671.0,928.2 1672.5,928.5 1674.0,929.4 1675.5,929.9 1677.0,930.7 1678.5,931.8 1680.0,931.8 1681.5,931.6 1683.0,932.6 1684.5,932.5 1686.0,932.3 1687.5,931.2 1689.0,931.7 1690.5,931.8 1692.0,931.0 1693.5,930.0 1695.0,928.3 1696.5,926.3 1698.0,923.5 1699.5,920.5 1701.0,917.8 1702.5,914.6 1704.0,912.0 1705.5,909.6 1707.0,907.4 1708.5,905.8 1710.0,903.5 1711.5,902.1 1713.0,899.3 1714.5,896.4 1716.0,893.1 1717.5,889.7 1719.0,885.9 1720.5,882.4 1722.0,880.0 1723.5,878.8 1725.0,879.4 1726.5,881.7 1728.0,886.1 1729.5,891.2 1731.0,896.6 1732.5,902.5 1734.0,907.9 1735.5,912.7 1737.0,917.4 1738.5,922.2 1740.0,926.4 1741.5,930.4 1743.0,934.1 1744.5,937.7 1746.0,939.7 1747.5,940.2 1749.0,939.7 1750.5,939.3 1752.0,940.2 1753.5,940.9 1755.0,942.1 1756.5,942.3 1758.0,942.4 1759.5,942.5 1761.0,942.9 1762.5,942.8 1764.0,942.7 1765.5,942.7 1767.0,942.6 1768.5,942.6 1770.0,943.1 1771.5,943.1 1773.0,943.6 1774.5,943.4 1776.0,944.8 1777.5,945.0 1779.0,944.9 1780.5,945.3 1782.0,944.9 1783.5,945.3 1785.0,945.7 1786.5,945.8 1788.0,945.8 1789.5,945.6 1791.0,946.1 1792.5,946.4 1794.0,947.3 1795.5,948.1 1797.0,947.9 1798.5,947.5 1800.0,947.3 1801.5,947.1 1803.0,946.5 1804.5,945.1 1806.0,944.2 1807.5,943.0 1809.0,941.1 1810.5,939.0 1812.0,935.3 1813.5,931.7 1815.0,927.3 1816.5,921.9 1818.0,915.0 1819.5,906.5 1821.0,897.4 1822.5,886.1 1824.0,873.4 1825.5,859.5 1827.0,845.1 1828.5,831.4 1830.0,818.4 1831.5,809.0 1833.0,802.3 1834.5,798.4 1836.0,799.1 1837.5,803.2 1839.0,812.1 1840.5,824.0 1842.0,838.3 1843.5,852.5 1845.0,866.0 1846.5,880.0 1848.0,892.9 1849.5,904.0 1851.0,913.4 1852.5,922.2 1854.0,928.8 1855.5,934.5 1857.0,939.6 1858.5,944.3 1860.0,948.0 1861.5,949.0 1863.0,950.1 1864.5,951.9 1866.0,952.9 1867.5,954.0 1869.0,953.3 1870.5,953.4 1872.0,954.1 1873.5,955.0 1875.0,956.5 1876.5,956.9 1878.0,956.9 1879.5,956.2 1881.0,955.5 1882.5,955.8 1884.0,956.9 1885.5,956.9 1887.0,957.0 1888.5,956.9 1890.0,957.0 1891.5,956.4 1893.0,956.8 1894.5,956.6 1896.0,956.7 1897.5,956.9 1899.0,957.3 1900.5,958.3 1902.0,958.4 1903.5,959.0 1905.0,959.5 1906.5,959.5 1908.0,959.7 1909.5,959.1 1911.0,957.8 1912.5,957.4 1914.0,956.9 1915.5,956.5 1917.0,956.0 1918.5,956.0 1920.0,956.9 1921.5,957.4 1923.0,958.1 1924.5,958.5 1926.0,958.8 1927.5,959.0 1929.0,959.7 1930.5,960.8 1932.0,961.4 1933.5,960.8 1935.0,959.4 1936.5,958.6 1938.0,958.5 1939.5,958.8 1941.0,959.4 1942.5,959.6 1944.0,959.7 1945.5,960.3 1947.0,960.1 1948.5,960.2 1950.0,959.4 1951.5,960.0 1953.0,960.7 1954.5,961.2 1956.0,961.9 1957.5,961.5 1959.0,961.3 1960.5,961.1 1962.0,961.3 1963.5,961.1 1965.0,959.7 1966.5,958.6 1968.0,958.8 1969.5,959.2 1971.0,960.6 1972.5,961.0 1974.0,961.4 1975.5,961.2 1977.0,961.4 1978.5,961.4 1980.0,961.1 1981.5,960.2 1983.0,960.1 1984.5,960.0 1986.0,959.2 1987.5,958.9 1989.0,959.1 1990.5,959.6 1992.0,960.3 1993.5,960.9 1995.0,961.1 1996.5,961.0 1998.0,961.5 1999.5,962.1 2001.0,961.5 2002.5,960.8 2004.0,960.5 2005.5,959.5 2007.0,959.1 2008.5,959.3 2010.0,960.1 2011.5,960.0 2013.0,960.1 2014.5,959.8 2016.0,960.7 2017.5,961.8 2019.0,961.7 2020.5,961.3 2022.0,960.5 2023.5,960.3 2025.0,960.6 2026.5,960.4 2028.0,960.8 2029.5,959.8 2031.0,958.7 2032.5,959.2 2034.0,958.5 2035.5,959.0 2037.0,958.8 2038.5,959.7 2040.0,960.1 2041.5,959.9 2043.0,960.7 L2043.0,992.3 Z" fill="#fff" stroke="#000" stroke-width="5.0" stroke-linejoin="round"/>
<path d="M284.1,1086.8 L284.1,1047.6 285.6,1048.5 287.1,1048.4 288.6,1048.1 290.1,1046.5 291.6,1045.7 293.1,1044.8 294.6,1044.3 296.1,1043.0 297.6,1039.6 299.1,1031.8 300.6,1017.7 302.1,993.4 303.6,960.7 305.1,924.0 306.6,895.5 308.1,887.9 309.6,905.3 311.1,938.7 312.6,973.8 314.1,1003.1 315.6,1022.8 317.1,1034.2 318.6,1040.4 320.1,1042.6 321.6,1043.4 323.1,1044.4 324.6,1045.5 326.1,1046.9 327.6,1046.6 329.1,1045.3 330.6,1044.1 332.1,1042.1 333.6,1040.7 335.1,1039.2 336.6,1037.9 338.1,1037.7 339.6,1037.7 341.1,1039.5 342.6,1040.9 344.1,1042.2 345.6,1043.6 347.1,1045.9 348.6,1047.4 350.1,1048.2 351.6,1047.5 353.1,1048.3 354.6,1047.9 356.1,1048.7 357.6,1047.9 359.1,1047.8 360.6,1048.0 362.1,1047.8 363.6,1047.1 365.1,1045.9 366.6,1043.6 368.1,1041.7 369.6,1040.3 371.1,1039.7 372.6,1039.6 374.1,1038.9 375.6,1039.5 377.1,1040.7 378.6,1042.5 380.1,1044.9 381.6,1048.2 383.1,1049.6 384.6,1050.3 386.1,1049.0 387.6,1049.1 389.1,1048.9 390.6,1049.7 392.1,1050.1 393.6,1050.2 395.1,1050.4 396.6,1050.8 398.1,1050.2 399.6,1049.8 401.1,1049.4 402.6,1049.8 404.1,1050.2 405.6,1050.2 407.1,1050.3 408.6,1050.2 410.1,1050.0 411.6,1049.9 413.1,1049.3 414.6,1048.3 416.1,1047.7 417.6,1047.7 419.1,1047.7 420.6,1048.6 422.1,1048.9 423.6,1049.5 425.1,1049.9 426.6,1049.6 428.1,1050.5 429.6,1051.1 431.1,1051.7 432.6,1052.0 434.1,1051.4 435.6,1050.7 437.1,1049.7 438.6,1048.7 440.1,1048.7 441.6,1048.0 443.1,1048.5 444.6,1048.8 446.1,1048.8 447.6,1049.6 449.1,1049.4 450.6,1050.8 452.1,1050.7 453.6,1050.9 455.1,1050.6 456.6,1050.6 458.1,1049.9 459.6,1049.3 461.1,1049.6 462.6,1050.1 464.1,1050.2 465.6,1050.3 467.1,1050.1 468.6,1049.8 470.1,1049.6 471.6,1050.4 473.1,1051.0 474.6,1051.3 476.1,1051.1 477.6,1050.2 479.1,1049.2 480.6,1048.4 482.1,1048.1 483.6,1048.7 485.1,1048.1 486.6,1048.0 488.1,1047.0 489.6,1047.9 491.1,1048.6 492.6,1048.7 494.1,1048.8 495.6,1048.1 497.1,1047.8 498.6,1047.6 500.1,1047.5 501.6,1046.9 503.1,1046.1 504.6,1045.3 506.1,1045.9 507.6,1045.6 509.1,1046.3 510.6,1045.7 512.1,1044.6 513.6,1042.7 515.1,1040.1 516.6,1035.6 518.1,1030.8 519.6,1024.4 521.1,1017.5 522.6,1009.7 524.1,1001.2 525.6,992.9 527.1,984.1 528.6,976.5 530.1,970.8 531.6,968.2 533.1,969.0 534.6,972.9 536.1,979.7 537.6,988.3 539.1,997.5 540.6,1006.5 542.1,1014.6 543.6,1021.9 545.1,1028.1 546.6,1032.7 548.1,1037.5 549.6,1040.4 551.1,1042.5 552.6,1043.2 554.1,1045.0 555.6,1045.9 557.1,1047.3 558.6,1046.8 560.1,1046.5 561.6,1046.1 563.1,1045.9 564.6,1046.5 566.1,1047.0 567.6,1047.3 569.1,1047.3 570.6,1047.3 572.1,1047.1 573.6,1046.8 575.1,1046.0 576.6,1046.1 578.1,1046.5 579.6,1047.1 581.1,1046.9 582.6,1047.6 584.1,1046.7 585.6,1047.6 587.1,1046.8 588.6,1046.4 590.1,1045.9 591.6,1046.6 593.1,1048.3 594.6,1048.9 596.1,1047.5 597.6,1046.5 599.1,1045.8 600.6,1046.4 602.1,1047.1 603.6,1046.9 605.1,1046.6 606.6,1046.5 608.1,1046.2 609.6,1046.3 611.1,1046.0 612.6,1046.2 614.1,1045.5 615.6,1046.2 617.1,1046.9 618.6,1047.8 620.1,1047.5 621.6,1047.8 623.1,1047.7 624.6,1048.2 626.1,1047.0 627.6,1046.6 629.1,1045.6 630.6,1044.2 632.1,1044.3 633.6,1044.7 635.1,1046.0 636.6,1046.6 638.1,1047.1 639.6,1047.5 641.1,1047.6 642.6,1047.7 644.1,1048.6 645.6,1047.3 647.1,1046.7 648.6,1046.2 650.1,1046.8 651.6,1047.3 653.1,1047.6 654.6,1048.3 656.1,1047.0 657.6,1045.7 659.1,1046.3 660.6,1046.7 662.1,1047.5 663.6,1048.1 665.1,1048.6 666.6,1048.0 668.1,1046.8 669.6,1047.0 671.1,1047.7 672.6,1048.3 674.1,1048.3 675.6,1048.5 677.1,1047.9 678.6,1047.6 680.1,1047.7 681.6,1048.4 683.1,1048.9 684.6,1049.0 686.1,1048.6 687.6,1048.5 689.1,1048.1 690.6,1047.3 692.1,1047.0 693.6,1046.7 695.1,1046.3 696.6,1046.4 698.1,1046.4 699.6,1046.8 701.1,1046.3 702.6,1046.8 704.1,1046.8 705.6,1046.8 707.1,1047.0 708.6,1048.2 710.1,1048.3 711.6,1049.3 713.1,1049.5 714.6,1049.5 716.1,1048.3 717.6,1047.5 719.1,1046.8 720.6,1046.2 722.1,1046.4 723.6,1046.9 725.1,1046.6 726.6,1047.0 728.1,1047.9 729.6,1048.8 731.1,1047.2 732.6,1045.9 734.1,1045.4 735.6,1045.4 737.1,1045.5 738.6,1045.8 740.1,1045.5 741.6,1044.6 743.1,1044.1 744.6,1044.1 746.1,1043.1 747.6,1041.9 749.1,1041.3 750.6,1041.2 752.1,1040.6 753.6,1040.8 755.1,1042.4 756.6,1044.3 758.1,1045.4 759.6,1045.6 761.1,1044.6 762.6,1044.6 764.1,1045.0 765.6,1046.1 767.1,1046.3 768.6,1046.2 770.1,1045.7 771.6,1045.7 773.1,1045.6 774.6,1045.7 776.1,1045.7 777.6,1046.3 779.1,1047.2 780.6,1048.3 782.1,1048.3 783.6,1047.5 785.1,1047.3 786.6,1047.1 788.1,1047.3 789.6,1046.3 791.1,1045.9 792.6,1045.4 794.1,1045.0 795.6,1046.6 797.1,1047.1 798.6,1047.0 800.1,1046.3 801.6,1045.6 803.1,1045.3 804.6,1045.2 806.1,1045.1 807.6,1045.1 809.1,1045.5 810.6,1046.4 812.1,1046.7 813.6,1046.4 815.1,1045.9 816.6,1045.8 818.1,1045.6 819.6,1046.7 821.1,1047.4 822.6,1047.8 824.1,1047.2 825.6,1047.5 827.1,1047.3 828.6,1046.8 830.1,1046.7 831.6,1046.7 833.1,1047.3 834.6,1047.9 836.1,1049.0 837.6,1049.4 839.1,1048.4 840.6,1048.0 842.1,1047.9 843.6,1048.3 845.1,1047.5 846.6,1046.5 848.1,1045.7 849.6,1045.7 851.1,1045.6 852.6,1046.2 854.1,1045.3 855.6,1044.4 857.1,1043.5 858.6,1042.8 860.1,1042.1 861.6,1041.1 863.1,1040.3 864.6,1040.5 866.1,1040.9 867.6,1041.3 869.1,1041.6 870.6,1041.7 872.1,1042.6 873.6,1043.9 875.1,1045.3 876.6,1046.2 878.1,1047.1 879.6,1046.4 881.1,1045.4 882.6,1044.8 884.1,1044.4 885.6,1044.3 887.1,1044.8 888.6,1045.3 890.1,1045.2 891.6,1045.1 893.1,1045.6 894.6,1046.1 896.1,1046.5 897.6,1046.7 899.1,1046.8 900.6,1045.9 902.1,1045.0 903.6,1045.0 905.1,1045.1 906.6,1045.0 908.1,1045.2 909.6,1044.3 911.1,1044.3 912.6,1044.5 914.1,1044.3 915.6,1045.3 917.1,1045.3 918.6,1045.8 920.1,1046.4 921.6,1045.7 923.1,1045.7 924.6,1044.5 926.1,1043.7 927.6,1043.2 929.1,1043.1 930.6,1043.6 932.1,1043.9 933.6,1043.3 935.1,1043.1 936.6,1043.2 938.1,1042.9 939.6,1043.3 941.1,1043.8 942.6,1043.3 944.1,1042.9 945.6,1042.5 947.1,1043.4 948.6,1044.2 950.1,1044.5 951.6,1043.6 953.1,1042.7 954.6,1042.0 956.1,1041.2 957.6,1039.6 959.1,1037.7 960.6,1036.5 962.1,1035.4 963.6,1034.8 965.1,1034.6 966.6,1033.4 968.1,1032.0 969.6,1030.9 971.1,1030.7 972.6,1030.9 974.1,1031.6 975.6,1032.5 977.1,1033.6 978.6,1035.2 980.1,1036.2 981.6,1037.0 983.1,1037.6 984.6,1037.9 986.1,1038.7 987.6,1039.5 989.1,1038.9 990.6,1038.1 992.1,1037.2 993.6,1038.4 995.1,1038.7 996.6,1039.0 998.1,1038.7 999.6,1038.9 1001.1,1038.5 1002.6,1038.0 1004.1,1037.2 1005.6,1036.1 1007.1,1035.0 1008.6,1033.5 1010.1,1032.1 1011.6,1031.0 1013.1,1029.4 1014.6,1027.6 1016.1,1024.2 1017.6,1021.3 1019.1,1017.8 1020.6,1015.2 1022.1,1012.8 1023.6,1010.7 1025.1,1010.4 1026.6,1010.0 1028.1,1010.7 1029.6,1013.0 1031.1,1015.4 1032.6,1018.3 1034.1,1020.6 1035.6,1023.7 1037.1,1026.4 1038.6,1028.1 1040.1,1029.7 1041.6,1031.7 1043.1,1032.5 1044.6,1033.5 1046.1,1034.7 1047.6,1035.9 1049.1,1036.8 1050.6,1037.3 1052.1,1037.4 1053.6,1037.5 1055.1,1038.2 1056.6,1038.5 1058.1,1038.7 1059.6,1037.8 1061.1,1037.6 1062.6,1038.5 1064.1,1039.5 1065.6,1040.0 1067.1,1039.4 1068.6,1038.1 1070.1,1037.9 1071.6,1037.6 1073.1,1037.4 1074.6,1037.7 1076.1,1037.6 1077.6,1037.6 1079.1,1037.2 1080.6,1036.5 1082.1,1035.7 1083.6,1033.5 1085.1,1030.8 1086.6,1028.3 1088.1,1025.7 1089.6,1021.7 1091.1,1016.3 1092.6,1009.9 1094.1,1002.8 1095.6,995.4 1097.1,987.9 1098.6,980.3 1100.1,973.7 1101.6,968.0 1103.1,964.1 1104.6,961.9 1106.1,962.8 1107.6,965.3 1109.1,969.9 1110.6,975.0 1112.1,981.1 1113.6,987.7 1115.1,994.0 1116.6,999.5 1118.1,1002.8 1119.6,1004.8 1121.1,1007.1 1122.6,1008.2 1124.1,1008.4 1125.6,1008.8 1127.1,1009.4 1128.6,1009.6 1130.1,1010.0 1131.6,1012.2 1133.1,1014.9 1134.6,1017.5 1136.1,1019.7 1137.6,1022.3 1139.1,1024.6 1140.6,1027.7 1142.1,1030.3 1143.6,1032.0 1145.1,1033.2 1146.6,1035.5 1148.1,1037.3 1149.6,1038.8 1151.1,1039.7 1152.6,1040.4 1154.1,1040.3 1155.6,1040.3 1157.1,1040.6 1158.6,1041.0 1160.1,1041.1 1161.6,1042.0 1163.1,1042.3 1164.6,1041.5 1166.1,1040.5 1167.6,1039.6 1169.1,1040.0 1170.6,1040.6 1172.1,1040.9 1173.6,1040.4 1175.1,1039.4 1176.6,1038.7 1178.1,1038.4 1179.6,1038.5 1181.1,1038.6 1182.6,1038.2 1184.1,1037.5 1185.6,1037.0 1187.1,1035.8 1188.6,1035.6 1190.1,1035.2 1191.6,1036.0 1193.1,1036.5 1194.6,1036.4 1196.1,1035.7 1197.6,1034.8 1199.1,1033.8 1200.6,1034.0 1202.1,1033.9 1203.6,1033.9 1205.1,1034.0 1206.6,1033.5 1208.1,1033.2 1209.6,1032.7 1211.1,1032.6 1212.6,1032.4 1214.1,1032.0 1215.6,1032.0 1217.1,1029.8 1218.6,1027.6 1220.1,1025.2 1221.6,1024.7 1223.1,1023.6 1224.6,1022.9 1226.1,1021.5 1227.6,1020.9 1229.1,1018.9 1230.6,1018.3 1232.1,1017.3 1233.6,1018.2 1235.1,1019.6 1236.6,1021.4 1238.1,1022.0 1239.6,1022.7 1241.1,1022.8 1242.6,1023.2 1244.1,1022.8 1245.6,1022.9 1247.1,1022.8 1248.6,1022.4 1250.1,1022.7 1251.6,1022.3 1253.1,1021.0 1254.6,1019.9 1256.1,1019.2 1257.6,1018.1 1259.1,1016.0 1260.6,1013.3 1262.1,1010.6 1263.6,1006.7 1265.1,1002.3 1266.6,996.2 1268.1,989.0 1269.6,981.0 1271.1,972.1 1272.6,962.9 1274.1,952.9 1275.6,942.2 1277.1,931.7 1278.6,922.4 1280.1,914.7 1281.6,907.8 1283.1,901.4 1284.6,898.7 1286.1,899.4 1287.6,903.0 1289.1,909.1 1290.6,916.6 1292.1,925.9 1293.6,936.3 1295.1,945.6 1296.6,955.8 1298.1,964.9 1299.6,974.8 1301.1,983.3 1302.6,991.1 1304.1,997.9 1305.6,1003.9 1307.1,1008.2 1308.6,1011.9 1310.1,1013.9 1311.6,1016.1 1313.1,1017.5 1314.6,1018.7 1316.1,1019.6 1317.6,1019.9 1319.1,1020.4 1320.6,1019.3 1322.1,1018.5 1323.6,1018.1 1325.1,1016.9 1326.6,1014.9 1328.1,1011.1 1329.6,1005.8 1331.1,999.9 1332.6,991.9 1334.1,983.6 1335.6,973.8 1337.1,962.5 1338.6,951.0 1340.1,937.7 1341.6,922.6 1343.1,906.5 1344.6,889.8 1346.1,873.3 1347.6,856.7 1349.1,841.3 1350.6,828.2 1352.1,817.1 1353.6,810.4 1355.1,807.8 1356.6,810.0 1358.1,814.8 1359.6,824.0 1361.1,835.2 1362.6,848.7 1364.1,863.6 1365.6,879.8 1367.1,895.9 1368.6,912.7 1370.1,928.7 1371.6,945.3 1373.1,959.5 1374.6,973.1 1376.1,983.7 1377.6,993.3 1379.1,1001.2 1380.6,1007.8 1382.1,1013.5 1383.6,1018.7 1385.1,1022.4 1386.6,1025.0 1388.1,1026.4 1389.6,1028.8 1391.1,1030.2 1392.6,1031.9 1394.1,1033.1 1395.6,1034.3 1397.1,1034.8 1398.6,1035.5 1400.1,1035.6 1401.6,1035.7 1403.1,1034.9 1404.6,1035.1 1406.1,1035.9 1407.6,1036.3 1409.1,1036.0 1410.6,1034.8 1412.1,1034.5 1413.6,1034.8 1415.1,1035.3 1416.6,1035.8 1418.1,1036.5 1419.6,1036.7 1421.1,1036.6 1422.6,1035.9 1424.1,1035.8 1425.6,1035.4 1427.1,1035.6 1428.6,1036.7 1430.1,1037.5 1431.6,1037.9 1433.1,1036.7 1434.6,1035.4 1436.1,1034.6 1437.6,1034.3 1439.1,1034.2 1440.6,1034.1 1442.1,1033.8 1443.6,1034.6 1445.1,1034.7 1446.6,1034.9 1448.1,1035.3 1449.6,1034.6 1451.1,1034.5 1452.6,1034.2 1454.1,1033.9 1455.6,1033.1 1457.1,1033.5 1458.6,1035.1 1460.1,1035.9 1461.6,1035.4 1463.1,1035.5 1464.6,1035.4 1466.1,1035.3 1467.6,1035.1 1469.1,1035.0 1470.6,1034.6 1472.1,1034.5 1473.6,1034.9 1475.1,1035.1 1476.6,1034.6 1478.1,1033.7 1479.6,1033.8 1481.1,1033.7 1482.6,1033.6 1484.1,1033.3 1485.6,1032.0 1487.1,1031.5 1488.6,1031.1 1490.1,1031.5 1491.6,1032.2 1493.1,1032.3 1494.6,1032.2 1496.1,1031.9 1497.6,1032.4 1499.1,1032.5 1500.6,1032.3 1502.1,1031.6 1503.6,1031.2 1505.1,1030.7 1506.6,1030.6 1508.1,1030.8 1509.6,1030.8 1511.1,1030.4 1512.6,1029.6 1514.1,1029.1 1515.6,1028.1 1517.1,1027.6 1518.6,1026.8 1520.1,1026.9 1521.6,1025.4 1523.1,1024.0 1524.6,1022.2 1526.1,1020.1 1527.6,1017.7 1529.1,1017.3 1530.6,1017.4 1532.1,1017.7 1533.6,1018.2 1535.1,1018.8 1536.6,1018.7 1538.1,1016.6 1539.6,1014.4 1541.1,1011.7 1542.6,1007.6 1544.1,1001.5 1545.6,992.5 1547.1,981.4 1548.6,967.6 1550.1,951.4 1551.6,933.2 1553.1,912.5 1554.6,890.8 1556.1,867.2 1557.6,843.5 1559.1,821.6 1560.6,802.8 1562.1,789.7 1563.6,783.6 1565.1,783.1 1566.6,789.8 1568.1,802.6 1569.6,821.6 1571.1,844.3 1572.6,867.5 1574.1,891.5 1575.6,913.6 1577.1,934.2 1578.6,952.3 1580.1,968.6 1581.6,982.1 1583.1,992.5 1584.6,1000.7 1586.1,1007.5 1587.6,1011.8 1589.1,1015.7 1590.6,1017.6 1592.1,1019.2 1593.6,1020.4 1595.1,1021.4 1596.6,1021.4 1598.1,1020.9 1599.6,1020.3 1601.1,1020.7 1602.6,1020.4 1604.1,1020.5 1605.6,1020.6 1607.1,1020.7 1608.6,1022.2 1610.1,1023.0 1611.6,1024.2 1613.1,1025.1 1614.6,1025.9 1616.1,1025.8 1617.6,1025.7 1619.1,1025.4 1620.6,1025.3 1622.1,1024.5 1623.6,1024.1 1625.1,1024.5 1626.6,1023.5 1628.1,1023.4 1629.6,1022.1 1631.1,1020.2 1632.6,1018.5 1634.1,1016.1 1635.6,1012.7 1637.1,1008.1 1638.6,1002.4 1640.1,996.8 1641.6,990.9 1643.1,985.7 1644.6,981.9 1646.1,978.8 1647.6,977.6 1649.1,977.1 1650.6,978.0 1652.1,980.9 1653.6,985.8 1655.1,991.6 1656.6,997.1 1658.1,1002.8 1659.6,1008.0 1661.1,1012.2 1662.6,1015.6 1664.1,1018.8 1665.6,1021.6 1667.1,1023.7 1668.6,1026.3 1670.1,1027.4 1671.6,1028.0 1673.1,1028.5 1674.6,1028.8 1676.1,1028.5 1677.6,1026.5 1679.1,1024.8 1680.6,1023.7 1682.1,1020.1 1683.6,1017.7 1685.1,1016.3 1686.6,1016.7 1688.1,1018.6 1689.6,1019.4 1691.1,1021.2 1692.6,1022.7 1694.1,1024.6 1695.6,1027.6 1697.1,1030.6 1698.6,1032.3 1700.1,1032.9 1701.6,1033.4 1703.1,1035.0 1704.6,1036.1 1706.1,1036.0 1707.6,1037.0 1709.1,1036.2 1710.6,1035.9 1712.1,1035.8 1713.6,1037.3 1715.1,1037.7 1716.6,1037.1 1718.1,1037.0 1719.6,1037.5 1721.1,1038.3 1722.6,1039.3 1724.1,1039.1 1725.6,1039.4 1727.1,1039.3 1728.6,1039.9 1730.1,1039.8 1731.6,1040.1 1733.1,1040.4 1734.6,1041.5 1736.1,1041.3 1737.6,1040.4 1739.1,1039.8 1740.6,1039.1 1742.1,1039.3 1743.6,1038.2 1745.1,1037.6 1746.6,1035.2 1748.1,1032.8 1749.6,1027.6 1751.1,1020.9 1752.6,1008.6 1754.1,994.1 1755.6,977.8 1757.1,960.5 1758.6,943.1 1760.1,927.9 1761.6,917.1 1763.1,912.2 1764.6,910.3 1766.1,910.3 1767.6,910.2 1769.1,911.6 1770.6,918.3 1772.1,934.6 1773.6,958.7 1775.1,985.6 1776.6,1008.5 1778.1,1026.3 1779.6,1038.1 1781.1,1045.1 1782.6,1049.5 1784.1,1052.1 1785.6,1053.8 1787.1,1053.8 1788.6,1054.3 1790.1,1054.6 1791.6,1055.2 1793.1,1055.1 1794.6,1055.7 1796.1,1055.9 1797.6,1057.6 1799.1,1058.7 1800.6,1059.3 1802.1,1059.2 1803.6,1059.7 1805.1,1060.7 1806.6,1061.7 1808.1,1062.5 1809.6,1062.4 1811.1,1062.1 1812.6,1061.8 1814.1,1061.1 1815.6,1060.7 1817.1,1061.1 1818.6,1060.9 1820.1,1060.1 1821.6,1060.0 1823.1,1061.0 1824.6,1062.2 1826.1,1062.0 1827.6,1061.2 1829.1,1060.9 1830.6,1060.2 1832.1,1060.5 1833.6,1059.8 1835.1,1060.1 1836.6,1060.4 1838.1,1061.2 1839.6,1061.8 1841.1,1061.3 1842.6,1060.4 1844.1,1059.7 1845.6,1059.0 1847.1,1058.6 1848.6,1058.0 1850.1,1058.8 1851.6,1058.6 1853.1,1058.2 1854.6,1058.2 1856.1,1058.3 1857.6,1057.6 1859.1,1057.8 1860.6,1058.5 1862.1,1058.6 1863.6,1057.8 1865.1,1057.1 1866.6,1058.5 1868.1,1059.5 1869.6,1060.9 1871.1,1061.5 1872.6,1061.3 1874.1,1061.0 1875.6,1060.6 1877.1,1061.1 1878.6,1061.5 1880.1,1060.9 1881.6,1060.9 1883.1,1060.7 1884.6,1060.7 1886.1,1060.7 1887.6,1060.6 1889.1,1061.0 1890.6,1060.9 1892.1,1061.1 1893.6,1061.5 1895.1,1061.1 1896.6,1060.8 1898.1,1060.9 1899.6,1060.9 1901.1,1061.2 1902.6,1060.5 1904.1,1060.1 1905.6,1059.2 1907.1,1058.5 1908.6,1058.4 1910.1,1058.8 1911.6,1058.8 1913.1,1059.0 1914.6,1059.5 1916.1,1059.3 1917.6,1059.4 1919.1,1059.2 1920.6,1059.6 1922.1,1058.9 1923.6,1058.0 1925.1,1056.9 1926.6,1057.0 1928.1,1057.5 1929.6,1058.8 1931.1,1059.0 1932.6,1058.5 1934.1,1057.4 1935.6,1057.4 1937.1,1057.8 1938.6,1058.8 1940.1,1059.0 1941.6,1059.9 1943.1,1060.3 1944.6,1060.3 1946.1,1059.7 1947.6,1059.1 1949.1,1058.4 1950.6,1058.1 1952.1,1058.7 1953.6,1059.3 1955.1,1059.5 1956.6,1060.3 1958.1,1061.1 1959.6,1061.0 1961.1,1060.1 1962.6,1059.5 1965.0,1060.3 L1965.0,1086.8 Z" fill="#fff" stroke="#000" stroke-width="5.0" stroke-linejoin="round"/>
<path d="M206.7,1181.3 L206.7,1150.0 208.2,1150.0 209.7,1150.0 211.2,1150.2 212.7,1149.8 214.2,1149.9 215.7,1149.4 217.2,1148.2 218.7,1146.5 220.2,1143.8 221.7,1139.9 223.2,1134.3 224.7,1127.7 226.2,1120.8 227.7,1114.3 229.2,1110.8 230.7,1112.4 232.2,1117.3 233.7,1124.5 235.2,1131.6 236.7,1137.9 238.2,1142.0 239.7,1144.8 241.2,1147.4 242.7,1150.0 244.2,1150.8 245.7,1150.5 247.2,1150.2 248.7,1149.8 250.2,1149.0 251.7,1149.4 253.2,1149.7 254.7,1150.2 256.2,1149.7 257.7,1150.1 259.2,1151.1 260.7,1151.6 262.2,1151.9 263.7,1152.2 265.2,1151.6 266.7,1151.4 268.2,1151.4 269.7,1150.8 271.2,1149.9 272.7,1149.4 274.2,1149.8 275.7,1148.9 277.2,1149.1 278.7,1148.9 280.2,1149.1 281.7,1148.8 283.2,1149.8 284.7,1149.8 286.2,1150.0 287.7,1149.0 289.2,1149.0 290.7,1149.0 292.2,1149.1 293.7,1150.3 295.2,1150.5 296.7,1150.4 298.2,1149.9 299.7,1150.2 301.2,1150.8 302.7,1151.1 304.2,1150.3 305.7,1150.4 307.2,1149.8 308.7,1149.8 310.2,1148.8 311.7,1148.9 313.2,1149.3 314.7,1149.7 316.2,1149.4 317.7,1148.7 319.2,1149.1 320.7,1149.9 322.2,1150.6 323.7,1151.1 325.2,1151.0 326.7,1150.3 328.2,1150.6 329.7,1151.0 331.2,1150.9 332.7,1150.3 334.2,1149.9 335.7,1150.1 337.2,1149.6 338.7,1149.0 340.2,1149.0 341.7,1149.0 343.2,1149.1 344.7,1148.8 346.2,1149.5 347.7,1149.4 349.2,1150.0 350.7,1149.9 352.2,1149.7 353.7,1149.0 355.2,1148.3 356.7,1148.4 358.2,1148.4 359.7,1147.7 361.2,1147.3 362.7,1146.7 364.2,1147.2 365.7,1148.2 367.2,1148.6 368.7,1148.4 370.2,1148.7 371.7,1148.5 373.2,1148.5 374.7,1148.6 376.2,1148.4 377.7,1149.3 379.2,1149.5 380.7,1149.8 382.2,1149.2 383.7,1148.6 385.2,1148.4 386.7,1148.9 388.2,1149.6 389.7,1150.0 391.2,1149.3 392.7,1148.6 394.2,1149.1 395.7,1150.0 397.2,1150.0 398.7,1149.6 400.2,1149.5 401.7,1149.3 403.2,1148.3 404.7,1147.7 406.2,1146.9 407.7,1147.0 409.2,1147.0 410.7,1147.2 412.2,1147.9 413.7,1148.0 415.2,1147.9 416.7,1147.8 418.2,1147.2 419.7,1147.2 421.2,1147.7 422.7,1147.9 424.2,1147.9 425.7,1147.6 427.2,1147.3 428.7,1147.4 430.2,1147.0 431.7,1147.3 433.2,1147.8 434.7,1147.4 436.2,1146.9 437.7,1146.0 439.2,1144.3 440.7,1144.3 442.2,1143.9 443.7,1143.3 445.2,1140.9 446.7,1139.3 448.2,1137.4 449.7,1135.5 451.2,1133.2 452.7,1131.5 454.2,1129.7 455.7,1129.2 457.2,1129.9 458.7,1131.0 460.2,1132.0 461.7,1134.4 463.2,1136.1 464.7,1138.1 466.2,1139.7 467.7,1141.6 469.2,1142.7 470.7,1144.5 472.2,1145.1 473.7,1145.3 475.2,1144.7 476.7,1145.6 478.2,1145.9 479.7,1146.5 481.2,1146.3 482.7,1147.2 484.2,1147.8 485.7,1148.6 487.2,1148.5 488.7,1148.5 490.2,1148.2 491.7,1147.5 493.2,1146.9 494.7,1147.5 496.2,1148.5 497.7,1148.9 499.2,1148.9 500.7,1148.0 502.2,1148.3 503.7,1148.3 505.2,1148.6 506.7,1148.1 508.2,1147.9 509.7,1148.8 511.2,1149.3 512.7,1149.8 514.2,1149.6 515.7,1149.2 517.2,1148.6 518.7,1149.2 520.2,1149.6 521.7,1150.5 523.2,1150.9 524.7,1150.8 526.2,1151.1 527.7,1151.0 529.2,1151.2 530.7,1150.5 532.2,1150.0 533.7,1149.5 535.2,1148.7 536.7,1148.2 538.2,1148.7 539.7,1149.1 541.2,1149.5 542.7,1150.3 544.2,1150.7 545.7,1150.8 547.2,1150.7 548.7,1150.5 550.2,1150.6 551.7,1149.5 553.2,1149.7 554.7,1150.1 556.2,1150.4 557.7,1149.8 559.2,1149.1 560.7,1148.5 562.2,1148.6 563.7,1148.7 565.2,1149.2 566.7,1149.0 568.2,1148.8 569.7,1149.0 571.2,1149.3 572.7,1149.1 574.2,1149.5 575.7,1150.5 577.2,1150.1 578.7,1149.8 580.2,1149.5 581.7,1149.5 583.2,1149.4 584.7,1149.4 586.2,1150.0 587.7,1151.1 589.2,1150.4 590.7,1150.6 592.2,1150.5 593.7,1150.7 595.2,1151.2 596.7,1151.6 598.2,1151.4 599.7,1151.2 601.2,1151.2 602.7,1151.0 604.2,1150.9 605.7,1150.6 607.2,1150.6 608.7,1150.4 610.2,1150.8 611.7,1151.9 613.2,1152.2 614.7,1151.7 616.2,1150.7 617.7,1151.0 619.2,1150.3 620.7,1150.5 622.2,1149.8 623.7,1150.3 625.2,1149.4 626.7,1149.0 628.2,1149.1 629.7,1149.9 631.2,1149.0 632.7,1149.3 634.2,1149.6 635.7,1150.3 637.2,1150.4 638.7,1151.2 640.2,1150.6 641.7,1149.9 643.2,1149.0 644.7,1149.5 646.2,1149.1 647.7,1148.8 649.2,1149.4 650.7,1149.3 652.2,1149.0 653.7,1148.7 655.2,1149.2 656.7,1149.7 658.2,1150.1 659.7,1149.8 661.2,1149.8 662.7,1149.0 664.2,1148.7 665.7,1148.2 667.2,1148.4 668.7,1148.7 670.2,1148.6 671.7,1149.2 673.2,1149.8 674.7,1151.2 676.2,1152.0 677.7,1152.1 679.2,1151.9 680.7,1152.6 682.2,1151.9 683.7,1151.6 685.2,1150.4 686.7,1150.8 688.2,1150.7 689.7,1151.1 691.2,1150.9 692.7,1150.5 694.2,1150.4 695.7,1150.8 697.2,1150.5 698.7,1149.8 700.2,1149.6 701.7,1149.1 703.2,1148.8 704.7,1149.2 706.2,1149.9 707.7,1149.3 709.2,1148.2 710.7,1148.4 712.2,1149.1 713.7,1149.3 715.2,1149.5 716.7,1150.3 718.2,1150.6 719.7,1150.8 721.2,1150.3 722.7,1150.1 724.2,1149.6 725.7,1149.3 727.2,1149.9 728.7,1149.9 730.2,1150.2 731.7,1149.9 733.2,1150.5 734.7,1150.1 736.2,1149.9 737.7,1150.0 739.2,1151.3 740.7,1150.9 742.2,1151.1 743.7,1150.7 745.2,1150.4 746.7,1149.8 748.2,1149.7 749.7,1149.8 751.2,1149.6 752.7,1149.1 754.2,1149.4 755.7,1149.9 757.2,1149.9 758.7,1149.6 760.2,1149.8 761.7,1150.3 763.2,1151.4 764.7,1151.6 766.2,1151.8 767.7,1151.6 769.2,1151.0 770.7,1150.6 772.2,1149.3 773.7,1148.2 775.2,1147.4 776.7,1147.3 778.2,1147.0 779.7,1147.1 781.2,1147.1 782.7,1147.7 784.2,1147.5 785.7,1147.8 787.2,1147.9 788.7,1148.1 790.2,1148.1 791.7,1147.7 793.2,1147.5 794.7,1148.3 796.2,1148.9 797.7,1149.2 799.2,1149.3 800.7,1149.1 802.2,1148.9 803.7,1149.0 805.2,1149.3 806.7,1150.1 808.2,1149.7 809.7,1149.9 811.2,1150.0 812.7,1150.5 814.2,1150.0 815.7,1149.9 817.2,1149.7 818.7,1150.2 820.2,1150.7 821.7,1151.5 823.2,1150.9 824.7,1150.7 826.2,1149.6 827.7,1149.5 829.2,1148.4 830.7,1147.6 832.2,1148.3 833.7,1148.3 835.2,1148.5 836.7,1148.7 838.2,1148.7 839.7,1149.0 841.2,1148.6 842.7,1148.5 844.2,1149.2 845.7,1148.8 847.2,1149.1 848.7,1148.1 850.2,1147.7 851.7,1147.4 853.2,1147.2 854.7,1146.8 856.2,1147.6 857.7,1147.4 859.2,1147.5 860.7,1147.8 862.2,1148.8 863.7,1149.7 865.2,1149.0 866.7,1148.9 868.2,1148.6 869.7,1147.3 871.2,1147.3 872.7,1147.9 874.2,1148.4 875.7,1149.0 877.2,1148.4 878.7,1147.9 880.2,1147.6 881.7,1147.8 883.2,1148.4 884.7,1149.2 886.2,1149.8 887.7,1150.1 889.2,1148.9 890.7,1148.2 892.2,1147.7 893.7,1147.2 895.2,1146.7 896.7,1146.8 898.2,1146.8 899.7,1146.8 901.2,1146.7 902.7,1147.3 904.2,1147.8 905.7,1148.1 907.2,1148.2 908.7,1148.6 910.2,1149.0 911.7,1148.2 913.2,1148.4 914.7,1149.0 916.2,1148.8 917.7,1147.8 919.2,1147.3 920.7,1146.8 922.2,1146.8 923.7,1146.7 925.2,1147.6 926.7,1147.6 928.2,1147.5 929.7,1146.4 931.2,1145.9 932.7,1145.1 934.2,1145.3 935.7,1144.6 937.2,1144.3 938.7,1144.6 940.2,1144.9 941.7,1143.3 943.2,1142.1 944.7,1140.8 946.2,1140.2 947.7,1140.6 949.2,1142.0 950.7,1143.1 952.2,1143.9 953.7,1144.3 955.2,1144.5 956.7,1144.5 958.2,1145.0 959.7,1147.0 961.2,1147.1 962.7,1147.1 964.2,1146.6 965.7,1146.0 967.2,1145.4 968.7,1145.9 970.2,1146.7 971.7,1147.1 973.2,1146.6 974.7,1146.8 976.2,1147.8 977.7,1147.6 979.2,1148.1 980.7,1147.4 982.2,1147.5 983.7,1147.4 985.2,1147.5 986.7,1148.0 988.2,1147.7 989.7,1147.0 991.2,1145.9 992.7,1144.8 994.2,1144.8 995.7,1144.9 997.2,1145.6 998.7,1147.3 1000.2,1148.1 1001.7,1148.5 1003.2,1147.5 1004.7,1146.8 1006.2,1146.4 1007.7,1145.7 1009.2,1145.0 1010.7,1143.2 1012.2,1140.8 1013.7,1138.7 1015.2,1136.7 1016.7,1135.1 1018.2,1133.1 1019.7,1131.8 1021.2,1130.3 1022.7,1129.2 1024.2,1128.5 1025.7,1128.4 1027.2,1129.6 1028.7,1131.0 1030.2,1132.6 1031.7,1135.2 1033.2,1138.0 1034.7,1139.8 1036.2,1141.0 1037.7,1141.1 1039.2,1141.8 1040.7,1142.5 1042.2,1143.7 1043.7,1145.0 1045.2,1145.1 1046.7,1145.3 1048.2,1144.7 1049.7,1144.2 1051.2,1144.2 1052.7,1145.8 1054.2,1146.1 1055.7,1146.1 1057.2,1146.4 1058.7,1147.3 1060.2,1147.4 1061.7,1147.0 1063.2,1146.6 1064.7,1147.0 1066.2,1147.5 1067.7,1148.7 1069.2,1150.2 1070.7,1150.9 1072.2,1151.0 1073.7,1150.0 1075.2,1148.8 1076.7,1147.3 1078.2,1147.2 1079.7,1146.9 1081.2,1147.0 1082.7,1146.6 1084.2,1146.6 1085.7,1147.5 1087.2,1148.1 1088.7,1149.1 1090.2,1149.4 1091.7,1149.0 1093.2,1149.3 1094.7,1149.6 1096.2,1149.7 1097.7,1149.4 1099.2,1148.0 1100.7,1146.8 1102.2,1146.0 1103.7,1146.5 1105.2,1146.9 1106.7,1146.2 1108.2,1145.2 1109.7,1144.0 1111.2,1144.1 1112.7,1144.9 1114.2,1145.3 1115.7,1145.8 1117.2,1146.6 1118.7,1146.8 1120.2,1145.9 1121.7,1145.4 1123.2,1146.4 1124.7,1146.8 1126.2,1146.9 1127.7,1146.0 1129.2,1145.6 1130.7,1145.0 1132.2,1145.2 1133.7,1145.4 1135.2,1144.4 1136.7,1144.4 1138.2,1145.0 1139.7,1145.8 1141.2,1146.6 1142.7,1146.8 1144.2,1146.0 1145.7,1144.9 1147.2,1143.8 1148.7,1144.4 1150.2,1144.6 1151.7,1145.2 1153.2,1145.6 1154.7,1145.8 1156.2,1145.6 1157.7,1145.5 1159.2,1145.7 1160.7,1145.4 1162.2,1145.2 1163.7,1144.4 1165.2,1144.0 1166.7,1143.9 1168.2,1144.2 1169.7,1143.9 1171.2,1144.5 1172.7,1144.9 1174.2,1146.1 1175.7,1146.0 1177.2,1145.8 1178.7,1144.4 1180.2,1142.8 1181.7,1142.5 1183.2,1143.3 1184.7,1143.0 1186.2,1142.9 1187.7,1142.6 1189.2,1142.3 1190.7,1140.8 1192.2,1139.8 1193.7,1138.0 1195.2,1136.6 1196.7,1133.6 1198.2,1131.1 1199.7,1126.7 1201.2,1122.4 1202.7,1118.1 1204.2,1113.9 1205.7,1109.5 1207.2,1107.4 1208.7,1107.2 1210.2,1108.8 1211.7,1111.5 1213.2,1114.7 1214.7,1118.2 1216.2,1121.7 1217.7,1125.5 1219.2,1128.7 1220.7,1131.8 1222.2,1133.9 1223.7,1136.7 1225.2,1138.0 1226.7,1139.8 1228.2,1140.4 1229.7,1141.2 1231.2,1140.7 1232.7,1140.7 1234.2,1141.0 1235.7,1141.9 1237.2,1141.9 1238.7,1142.0 1240.2,1142.9 1241.7,1142.0 1243.2,1140.6 1244.7,1139.5 1246.2,1139.9 1247.7,1140.0 1249.2,1140.9 1250.7,1141.9 1252.2,1142.3 1253.7,1141.1 1255.2,1140.5 1256.7,1140.4 1258.2,1139.8 1259.7,1138.6 1261.2,1136.3 1262.7,1132.0 1264.2,1127.7 1265.7,1124.5 1267.2,1120.4 1268.7,1115.0 1270.2,1107.6 1271.7,1101.2 1273.2,1095.1 1274.7,1090.6 1276.2,1087.7 1277.7,1087.2 1279.2,1087.5 1280.7,1089.8 1282.2,1093.0 1283.7,1098.0 1285.2,1102.9 1286.7,1108.6 1288.2,1114.1 1289.7,1120.7 1291.2,1125.7 1292.7,1130.6 1294.2,1134.6 1295.7,1137.1 1297.2,1138.1 1298.7,1138.0 1300.2,1138.2 1301.7,1139.0 1303.2,1139.8 1304.7,1141.1 1306.2,1141.7 1307.7,1141.5 1309.2,1141.4 1310.7,1141.4 1312.2,1142.1 1313.7,1141.9 1315.2,1142.1 1316.7,1142.0 1318.2,1142.2 1319.7,1142.4 1321.2,1142.1 1322.7,1141.6 1324.2,1140.9 1325.7,1141.3 1327.2,1142.8 1328.7,1143.8 1330.2,1144.5 1331.7,1144.2 1333.2,1143.3 1334.7,1142.6 1336.2,1142.1 1337.7,1142.5 1339.2,1142.4 1340.7,1142.2 1342.2,1142.3 1343.7,1141.8 1345.2,1142.0 1346.7,1141.6 1348.2,1142.4 1349.7,1143.1 1351.2,1143.2 1352.7,1143.5 1354.2,1143.2 1355.7,1143.1 1357.2,1143.5 1358.7,1144.2 1360.2,1144.7 1361.7,1143.9 1363.2,1143.2 1364.7,1144.2 1366.2,1144.9 1367.7,1144.5 1369.2,1145.2 1370.7,1144.9 1372.2,1144.9 1373.7,1144.2 1375.2,1143.7 1376.7,1143.4 1378.2,1142.4 1379.7,1142.4 1381.2,1142.8 1382.7,1143.6 1384.2,1144.0 1385.7,1144.4 1387.2,1143.7 1388.7,1143.6 1390.2,1143.9 1391.7,1144.1 1393.2,1144.2 1394.7,1144.0 1396.2,1143.1 1397.7,1143.7 1399.2,1144.8 1400.7,1145.6 1402.2,1145.7 1403.7,1144.0 1405.2,1144.0 1406.7,1144.5 1408.2,1145.2 1409.7,1145.8 1411.2,1145.2 1412.7,1144.0 1414.2,1143.2 1415.7,1143.6 1417.2,1143.5 1418.7,1143.1 1420.2,1143.1 1421.7,1143.4 1423.2,1143.3 1424.7,1142.9 1426.2,1142.8 1427.7,1143.3 1429.2,1143.2 1430.7,1143.9 1432.2,1144.1 1433.7,1143.7 1435.2,1143.3 1436.7,1143.5 1438.2,1143.6 1439.7,1142.6 1441.2,1142.1 1442.7,1141.7 1444.2,1141.4 1445.7,1141.2 1447.2,1141.2 1448.7,1141.1 1450.2,1141.2 1451.7,1141.2 1453.2,1141.3 1454.7,1140.5 1456.2,1140.1 1457.7,1140.5 1459.2,1141.2 1460.7,1140.5 1462.2,1140.3 1463.7,1139.7 1465.2,1138.7 1466.7,1137.8 1468.2,1135.5 1469.7,1133.1 1471.2,1128.6 1472.7,1124.5 1474.2,1119.9 1475.7,1114.5 1477.2,1108.6 1478.7,1102.2 1480.2,1095.0 1481.7,1087.5 1483.2,1081.2 1484.7,1078.2 1486.2,1077.0 1487.7,1079.3 1489.2,1083.3 1490.7,1089.2 1492.2,1095.6 1493.7,1102.7 1495.2,1109.4 1496.7,1115.6 1498.2,1121.8 1499.7,1127.3 1501.2,1131.3 1502.7,1134.0 1504.2,1135.5 1505.7,1136.9 1507.2,1137.2 1508.7,1138.0 1510.2,1138.4 1511.7,1139.6 1513.2,1140.9 1514.7,1141.6 1516.2,1141.5 1517.7,1141.1 1519.2,1141.2 1520.7,1140.8 1522.2,1140.7 1523.7,1140.5 1525.2,1140.1 1526.7,1140.6 1528.2,1141.1 1529.7,1141.5 1531.2,1141.5 1532.7,1140.4 1534.2,1140.2 1535.7,1140.0 1537.2,1139.6 1538.7,1140.0 1540.2,1139.6 1541.7,1139.9 1543.2,1140.1 1544.7,1139.0 1546.2,1139.0 1547.7,1137.7 1549.2,1138.2 1550.7,1139.2 1552.2,1140.1 1553.7,1139.7 1555.2,1139.4 1556.7,1139.2 1558.2,1138.9 1559.7,1137.5 1561.2,1136.0 1562.7,1134.9 1564.2,1134.9 1565.7,1134.1 1567.2,1133.2 1568.7,1131.6 1570.2,1130.4 1571.7,1130.1 1573.2,1130.6 1574.7,1132.7 1576.2,1133.7 1577.7,1135.3 1579.2,1136.5 1580.7,1138.4 1582.2,1139.5 1583.7,1140.2 1585.2,1140.7 1586.7,1140.9 1588.2,1141.1 1589.7,1142.0 1591.2,1141.8 1592.7,1141.3 1594.2,1140.3 1595.7,1139.7 1597.2,1139.7 1598.7,1140.6 1600.2,1141.2 1601.7,1141.5 1603.2,1141.7 1604.7,1142.4 1606.2,1143.4 1607.7,1143.8 1609.2,1143.9 1610.7,1143.5 1612.2,1142.8 1613.7,1142.8 1615.2,1143.4 1616.7,1143.3 1618.2,1143.5 1619.7,1143.4 1621.2,1143.2 1622.7,1143.3 1624.2,1142.7 1625.7,1142.8 1627.2,1143.2 1628.7,1143.8 1630.2,1145.1 1631.7,1146.1 1633.2,1146.0 1634.7,1145.2 1636.2,1143.8 1637.7,1143.5 1639.2,1142.9 1640.7,1142.4 1642.2,1142.4 1643.7,1143.4 1645.2,1143.7 1646.7,1144.3 1648.2,1144.8 1649.7,1144.4 1651.2,1144.5 1652.7,1144.5 1654.2,1145.3 1655.7,1145.2 1657.2,1145.4 1658.7,1145.5 1660.2,1145.0 1661.7,1144.7 1663.2,1145.1 1664.7,1144.7 1666.2,1143.6 1667.7,1141.9 1669.2,1140.1 1670.7,1137.7 1672.2,1135.3 1673.7,1133.0 1675.2,1130.9 1676.7,1127.8 1678.2,1123.8 1679.7,1119.6 1681.2,1115.6 1682.7,1113.6 1684.2,1114.1 1685.7,1117.0 1687.2,1120.1 1688.7,1123.9 1690.2,1126.9 1691.7,1131.0 1693.2,1135.1 1694.7,1139.6 1696.2,1142.8 1697.7,1145.0 1699.2,1146.2 1700.7,1147.7 1702.2,1147.2 1703.7,1146.8 1705.2,1146.2 1706.7,1146.4 1708.2,1146.5 1709.7,1147.4 1711.2,1148.6 1712.7,1150.1 1714.2,1150.6 1715.7,1150.2 1717.2,1150.3 1718.7,1150.2 1720.2,1150.0 1721.7,1150.2 1723.2,1151.0 1724.7,1152.3 1726.2,1152.8 1727.7,1152.8 1729.2,1152.5 1730.7,1151.2 1732.2,1150.9 1733.7,1150.5 1735.2,1150.1 1736.7,1149.0 1738.2,1149.1 1739.7,1149.0 1741.2,1149.3 1742.7,1149.7 1744.2,1149.9 1745.7,1149.3 1747.2,1148.5 1748.7,1148.1 1750.2,1148.3 1751.7,1149.2 1753.2,1149.3 1754.7,1148.8 1756.2,1148.0 1757.7,1147.3 1759.2,1148.0 1760.7,1148.0 1762.2,1149.4 1763.7,1150.2 1765.2,1150.4 1766.7,1150.6 1768.2,1151.4 1769.7,1152.0 1771.2,1152.5 1772.7,1151.2 1774.2,1151.0 1775.7,1150.5 1777.2,1150.4 1778.7,1150.4 1780.2,1151.2 1781.7,1152.0 1783.2,1152.2 1784.7,1151.0 1786.2,1150.3 1787.7,1150.2 1789.2,1150.4 1790.7,1150.5 1792.2,1149.9 1793.7,1150.2 1795.2,1149.9 1796.7,1150.2 1798.2,1150.0 1799.7,1150.2 1801.2,1149.3 1802.7,1148.7 1804.2,1148.5 1805.7,1149.2 1807.2,1149.5 1808.7,1150.0 1810.2,1150.4 1811.7,1150.7 1813.2,1150.7 1814.7,1150.8 1816.2,1150.6 1817.7,1149.8 1819.2,1150.1 1820.7,1149.7 1822.2,1149.3 1823.7,1148.8 1825.2,1149.3 1826.7,1150.1 1828.2,1150.9 1829.7,1150.9 1831.2,1151.2 1832.7,1149.8 1834.2,1150.7 1835.7,1151.3 1837.2,1151.5 1838.7,1151.5 1840.2,1152.3 1841.7,1152.5 1843.2,1152.3 1844.7,1151.5 1846.2,1151.8 1847.7,1151.2 1849.2,1150.7 1850.7,1150.5 1852.2,1149.7 1853.7,1149.3 1855.2,1149.2 1856.7,1149.2 1858.2,1148.8 1859.7,1147.9 1861.2,1148.7 1862.7,1148.9 1864.2,1149.4 1865.7,1149.4 1867.2,1150.2 1868.7,1149.9 1870.2,1149.7 1871.7,1149.7 1873.2,1150.1 1874.7,1149.8 1876.2,1149.6 1877.7,1149.9 1879.2,1150.4 1880.7,1149.9 1882.2,1149.7 1883.7,1149.4 1885.2,1149.7 1887.0,1149.6 L1887.0,1181.3 Z" fill="#fff" stroke="#000" stroke-width="5.0" stroke-linejoin="round"/>
<line x1="168.00" y1="1228.00" x2="1848.00" y2="1228.00" stroke="#000" stroke-width="6.5" stroke-linecap="butt" />
<line x1="168.00" y1="1228.00" x2="158.13" y2="1239.95" stroke="#000" stroke-width="5.5" stroke-linecap="round" />
<line x1="308.00" y1="1228.00" x2="302.91" y2="1234.17" stroke="#000" stroke-width="5.5" stroke-linecap="round" />
<line x1="448.00" y1="1228.00" x2="438.13" y2="1239.95" stroke="#000" stroke-width="5.5" stroke-linecap="round" />
<line x1="588.00" y1="1228.00" x2="582.91" y2="1234.17" stroke="#000" stroke-width="5.5" stroke-linecap="round" />
<line x1="728.00" y1="1228.00" x2="718.13" y2="1239.95" stroke="#000" stroke-width="5.5" stroke-linecap="round" />
<line x1="868.00" y1="1228.00" x2="862.91" y2="1234.17" stroke="#000" stroke-width="5.5" stroke-linecap="round" />
<line x1="1008.00" y1="1228.00" x2="998.13" y2="1239.95" stroke="#000" stroke-width="5.5" stroke-linecap="round" />
<line x1="1148.00" y1="1228.00" x2="1142.91" y2="1234.17" stroke="#000" stroke-width="5.5" stroke-linecap="round" />
<line x1="1288.00" y1="1228.00" x2="1278.13" y2="1239.95" stroke="#000" stroke-width="5.5" stroke-linecap="round" />
<line x1="1428.00" y1="1228.00" x2="1422.91" y2="1234.17" stroke="#000" stroke-width="5.5" stroke-linecap="round" />
<line x1="1568.00" y1="1228.00" x2="1558.13" y2="1239.95" stroke="#000" stroke-width="5.5" stroke-linecap="round" />
<line x1="1708.00" y1="1228.00" x2="1702.91" y2="1234.17" stroke="#000" stroke-width="5.5" stroke-linecap="round" />
<line x1="1848.00" y1="1228.00" x2="1838.13" y2="1239.95" stroke="#000" stroke-width="5.5" stroke-linecap="round" />
<text x="53.20" y="1302.50" style='font-family:"Liberation Sans", Arial, sans-serif;font-weight:normal;font-size:60.00px' fill="#000" textLength="100.11" lengthAdjust="spacingAndGlyphs" >600</text>
<text x="333.20" y="1302.50" style='font-family:"Liberation Sans", Arial, sans-serif;font-weight:normal;font-size:60.00px' fill="#000" textLength="100.11" lengthAdjust="spacingAndGlyphs" >800</text>
<text x="579.90" y="1302.50" style='font-family:"Liberation Sans", Arial, sans-serif;font-weight:normal;font-size:60.00px' fill="#000" textLength="133.48" lengthAdjust="spacingAndGlyphs" >1000</text>
<text x="859.90" y="1302.50" style='font-family:"Liberation Sans", Arial, sans-serif;font-weight:normal;font-size:60.00px' fill="#000" textLength="133.48" lengthAdjust="spacingAndGlyphs" >1200</text>
<text x="1139.90" y="1302.50" style='font-family:"Liberation Sans", Arial, sans-serif;font-weight:normal;font-size:60.00px' fill="#000" textLength="133.48" lengthAdjust="spacingAndGlyphs" >1400</text>
<text x="1419.90" y="1302.50" style='font-family:"Liberation Sans", Arial, sans-serif;font-weight:normal;font-size:60.00px' fill="#000" textLength="133.48" lengthAdjust="spacingAndGlyphs" >1600</text>
<text x="1699.90" y="1302.50" style='font-family:"Liberation Sans", Arial, sans-serif;font-weight:normal;font-size:60.00px' fill="#000" textLength="133.48" lengthAdjust="spacingAndGlyphs" >1800</text>
<text x="704.86" y="1414.00" style='font-family:"Liberation Sans", Arial, sans-serif;font-weight:normal;font-size:77.00px' fill="#000" textLength="542.23" lengthAdjust="spacingAndGlyphs" >Raman shift/cm</text>
<text x="1247.43" y="1388.00" style='font-family:"Liberation Sans", Arial, sans-serif;font-weight:normal;font-size:51.20px' fill="#000" textLength="28.90" lengthAdjust="spacingAndGlyphs" >−</text>
<text x="1277.22" y="1388.00" text-anchor="start" style='font-family:"Liberation Sans", Arial, sans-serif;font-weight:normal;font-size:51.20px' fill="#000" >1</text>
<text x="491.09" y="162.75" style='font-family:"Liberation Sans", Arial, sans-serif;font-weight:normal;font-size:116.89px' fill="#000" textLength="154.68" lengthAdjust="spacingAndGlyphs" >(a)</text>
<text x="0" y="0" transform="translate(2268.00,653.57) rotate(-90)" style='font-family:"Liberation Sans", Arial, sans-serif;font-weight:normal;font-size:77.09px' fill="#000" textLength="415.17" lengthAdjust="spacingAndGlyphs" >Intensity/a.u.</text>
<text x="2159.85" y="913.10" style='font-family:"Liberation Serif", "Times New Roman", serif;font-weight:normal;font-size:66.50px' fill="#000" textLength="79.00" lengthAdjust="spacingAndGlyphs" >(d)</text>
<text x="2078.70" y="1012.40" style='font-family:"Liberation Serif", "Times New Roman", serif;font-weight:normal;font-size:66.50px' fill="#000" textLength="76.52" lengthAdjust="spacingAndGlyphs" >(c)</text>
<text x="2013.62" y="1101.80" style='font-family:"Liberation Serif", "Times New Roman", serif;font-weight:normal;font-size:66.50px' fill="#000" textLength="79.75" lengthAdjust="spacingAndGlyphs" >(b)</text>
<text x="1890.43" y="1205.20" style='font-family:"Liberation Serif", "Noto Serif CJK SC", serif;font-weight:normal;font-size:53.48px' fill="#000" textLength="62.26" lengthAdjust="spacingAndGlyphs" >（</text>
<text x="1994.75" y="1205.20" style='font-family:"Liberation Serif", "Noto Serif CJK SC", serif;font-weight:normal;font-size:53.48px' fill="#000" textLength="66.43" lengthAdjust="spacingAndGlyphs" >）</text>
<text x="1959.30" y="1207.20" style='font-family:"Liberation Serif", "Times New Roman", serif;font-weight:normal;font-size:66.70px' fill="#000" textLength="31.69" lengthAdjust="spacingAndGlyphs" >a</text>
<rect x="274.5" y="1672.2" width="1711.5" height="1183.8" fill="none" stroke="#000" stroke-width="5.5"/>
<line x1="246.00" y1="2856.00" x2="274.50" y2="2856.00" stroke="#000" stroke-width="5.5" stroke-linecap="round" />
<line x1="259.50" y1="2737.62" x2="274.50" y2="2737.62" stroke="#000" stroke-width="5.5" stroke-linecap="butt" />
<line x1="246.00" y1="2619.24" x2="274.50" y2="2619.24" stroke="#000" stroke-width="5.5" stroke-linecap="round" />
<line x1="259.50" y1="2500.86" x2="274.50" y2="2500.86" stroke="#000" stroke-width="5.5" stroke-linecap="butt" />
<line x1="246.00" y1="2382.48" x2="274.50" y2="2382.48" stroke="#000" stroke-width="5.5" stroke-linecap="round" />
<line x1="259.50" y1="2264.10" x2="274.50" y2="2264.10" stroke="#000" stroke-width="5.5" stroke-linecap="butt" />
<line x1="246.00" y1="2145.72" x2="274.50" y2="2145.72" stroke="#000" stroke-width="5.5" stroke-linecap="round" />
<line x1="259.50" y1="2027.34" x2="274.50" y2="2027.34" stroke="#000" stroke-width="5.5" stroke-linecap="butt" />
<line x1="246.00" y1="1908.96" x2="274.50" y2="1908.96" stroke="#000" stroke-width="5.5" stroke-linecap="round" />
<line x1="259.50" y1="1790.58" x2="274.50" y2="1790.58" stroke="#000" stroke-width="5.5" stroke-linecap="butt" />
<line x1="246.00" y1="1672.20" x2="274.50" y2="1672.20" stroke="#000" stroke-width="5.5" stroke-linecap="round" />
<line x1="274.50" y1="2856.00" x2="274.50" y2="2883.00" stroke="#000" stroke-width="5.5" stroke-linecap="round" />
<line x1="439.05" y1="2856.00" x2="439.05" y2="2870.00" stroke="#000" stroke-width="5.5" stroke-linecap="butt" />
<line x1="603.60" y1="2856.00" x2="603.60" y2="2883.00" stroke="#000" stroke-width="5.5" stroke-linecap="round" />
<line x1="768.15" y1="2856.00" x2="768.15" y2="2870.00" stroke="#000" stroke-width="5.5" stroke-linecap="butt" />
<line x1="932.70" y1="2856.00" x2="932.70" y2="2883.00" stroke="#000" stroke-width="5.5" stroke-linecap="round" />
<line x1="1097.25" y1="2856.00" x2="1097.25" y2="2870.00" stroke="#000" stroke-width="5.5" stroke-linecap="butt" />
<line x1="1261.80" y1="2856.00" x2="1261.80" y2="2883.00" stroke="#000" stroke-width="5.5" stroke-linecap="round" />
<line x1="1426.35" y1="2856.00" x2="1426.35" y2="2870.00" stroke="#000" stroke-width="5.5" stroke-linecap="butt" />
<line x1="1590.90" y1="2856.00" x2="1590.90" y2="2883.00" stroke="#000" stroke-width="5.5" stroke-linecap="round" />
<line x1="1755.45" y1="2856.00" x2="1755.45" y2="2870.00" stroke="#000" stroke-width="5.5" stroke-linecap="butt" />
<line x1="1920.00" y1="2856.00" x2="1920.00" y2="2883.00" stroke="#000" stroke-width="5.5" stroke-linecap="round" />
<text x="204.38" y="2871.52" style='font-family:"Liberation Sans", Arial, sans-serif;font-weight:normal;font-size:49.50px' fill="#000" textLength="27.53" lengthAdjust="spacingAndGlyphs" >0</text>
<text x="149.32" y="2634.76" style='font-family:"Liberation Sans", Arial, sans-serif;font-weight:normal;font-size:49.50px' fill="#000" textLength="82.59" lengthAdjust="spacingAndGlyphs" >200</text>
<text x="149.31" y="2398.00" style='font-family:"Liberation Sans", Arial, sans-serif;font-weight:normal;font-size:49.50px' fill="#000" textLength="82.59" lengthAdjust="spacingAndGlyphs" >400</text>
<text x="149.32" y="2161.24" style='font-family:"Liberation Sans", Arial, sans-serif;font-weight:normal;font-size:49.50px' fill="#000" textLength="82.59" lengthAdjust="spacingAndGlyphs" >600</text>
<text x="149.31" y="1924.48" style='font-family:"Liberation Sans", Arial, sans-serif;font-weight:normal;font-size:49.50px' fill="#000" textLength="82.59" lengthAdjust="spacingAndGlyphs" >800</text>
<text x="121.84" y="1687.72" style='font-family:"Liberation Sans", Arial, sans-serif;font-weight:normal;font-size:49.50px' fill="#000" textLength="110.12" lengthAdjust="spacingAndGlyphs" >1000</text>
<text x="241.08" y="2934.00" style='font-family:"Liberation Sans", Arial, sans-serif;font-weight:normal;font-size:48.00px' fill="#000" textLength="66.73" lengthAdjust="spacingAndGlyphs" >0.0</text>
<text x="570.42" y="2934.00" style='font-family:"Liberation Sans", Arial, sans-serif;font-weight:normal;font-size:48.00px' fill="#000" textLength="66.73" lengthAdjust="spacingAndGlyphs" >0.1</text>
<text x="899.58" y="2934.00" style='font-family:"Liberation Sans", Arial, sans-serif;font-weight:normal;font-size:48.00px' fill="#000" textLength="66.73" lengthAdjust="spacingAndGlyphs" >0.2</text>
<text x="1228.50" y="2934.00" style='font-family:"Liberation Sans", Arial, sans-serif;font-weight:normal;font-size:48.00px' fill="#000" textLength="66.73" lengthAdjust="spacingAndGlyphs" >0.3</text>
<text x="1557.24" y="2934.00" style='font-family:"Liberation Sans", Arial, sans-serif;font-weight:normal;font-size:48.00px' fill="#000" textLength="66.73" lengthAdjust="spacingAndGlyphs" >0.4</text>
<text x="1886.64" y="2934.00" style='font-family:"Liberation Sans", Arial, sans-serif;font-weight:normal;font-size:48.00px' fill="#000" textLength="66.73" lengthAdjust="spacingAndGlyphs" >0.5</text>
<text x="615.34" y="3024.90" style='font-family:"Liberation Sans", Arial, sans-serif;font-weight:normal;font-size:65.50px' fill="#000" textLength="887.80" lengthAdjust="spacingAndGlyphs" >Concentration of R6G/mmol L</text>
<text x="1502.95" y="3004.90" style='font-family:"Liberation Sans", Arial, sans-serif;font-weight:normal;font-size:43.50px' fill="#000" textLength="25.17" lengthAdjust="spacingAndGlyphs" >−</text>
<text x="1529.16" y="3004.90" text-anchor="start" style='font-family:"Liberation Sans", Arial, sans-serif;font-weight:normal;font-size:43.50px' fill="#000" >1</text>
<text x="0" y="0" transform="translate(73.20,2438.65) rotate(-90)" style='font-family:"Liberation Sans", Arial, sans-serif;font-weight:normal;font-size:67.05px' fill="#000" textLength="364.44" lengthAdjust="spacingAndGlyphs" >Intensity/a.u.</text>
<text x="280.17" y="1766.22" style='font-family:"Liberation Sans", Arial, sans-serif;font-weight:normal;font-size:94.37px' fill="#000" textLength="125.73" lengthAdjust="spacingAndGlyphs" >(b)</text>
<line x1="291.00" y1="2714.00" x2="291.00" y2="2748.00" stroke="#000" stroke-width="10" stroke-linecap="butt" />
<line x1="278.50" y1="2714.00" x2="303.50" y2="2714.00" stroke="#000" stroke-width="10" stroke-linecap="round" />
<line x1="278.50" y1="2748.00" x2="303.50" y2="2748.00" stroke="#000" stroke-width="10" stroke-linecap="round" />
<rect x="282.50" y="2723.00" width="17" height="16" fill="#000"/>
<line x1="439.00" y1="2310.00" x2="439.00" y2="2352.00" stroke="#000" stroke-width="10" stroke-linecap="butt" />
<line x1="426.50" y1="2310.00" x2="451.50" y2="2310.00" stroke="#000" stroke-width="10" stroke-linecap="round" />
<line x1="426.50" y1="2352.00" x2="451.50" y2="2352.00" stroke="#000" stroke-width="10" stroke-linecap="round" />
<rect x="430.50" y="2323.00" width="17" height="16" fill="#000"/>
<line x1="603.50" y1="2189.50" x2="603.50" y2="2256.90" stroke="#000" stroke-width="10" stroke-linecap="butt" />
<line x1="591.00" y1="2189.50" x2="616.00" y2="2189.50" stroke="#000" stroke-width="10" stroke-linecap="round" />
<line x1="591.00" y1="2256.90" x2="616.00" y2="2256.90" stroke="#000" stroke-width="10" stroke-linecap="round" />
<rect x="595.00" y="2214.80" width="17" height="16" fill="#000"/>
<line x1="1920.00" y1="1840.50" x2="1920.00" y2="2045.50" stroke="#000" stroke-width="10" stroke-linecap="butt" />
<line x1="1907.50" y1="1840.50" x2="1932.50" y2="1840.50" stroke="#000" stroke-width="10" stroke-linecap="round" />
<line x1="1907.50" y1="2045.50" x2="1932.50" y2="2045.50" stroke="#000" stroke-width="10" stroke-linecap="round" />
<rect x="1911.50" y="1934.80" width="17" height="16" fill="#000"/>
<rect x="1137.4" y="2174.7" width="828.0999999999999" height="559.8000000000002" fill="#fff" stroke="#000" stroke-width="3.2"/>
<line x1="1126.40" y1="2734.50" x2="1137.40" y2="2734.50" stroke="#000" stroke-width="3.4" stroke-linecap="butt" />
<line x1="1131.40" y1="2672.20" x2="1137.40" y2="2672.20" stroke="#000" stroke-width="3.4" stroke-linecap="butt" />
<line x1="1126.40" y1="2609.90" x2="1137.40" y2="2609.90" stroke="#000" stroke-width="3.4" stroke-linecap="butt" />
<line x1="1131.40" y1="2547.60" x2="1137.40" y2="2547.60" stroke="#000" stroke-width="3.4" stroke-linecap="butt" />
<line x1="1126.40" y1="2485.30" x2="1137.40" y2="2485.30" stroke="#000" stroke-width="3.4" stroke-linecap="butt" />
<line x1="1131.40" y1="2423.00" x2="1137.40" y2="2423.00" stroke="#000" stroke-width="3.4" stroke-linecap="butt" />
<line x1="1126.40" y1="2360.70" x2="1137.40" y2="2360.70" stroke="#000" stroke-width="3.4" stroke-linecap="butt" />
<line x1="1131.40" y1="2298.40" x2="1137.40" y2="2298.40" stroke="#000" stroke-width="3.4" stroke-linecap="butt" />
<line x1="1126.40" y1="2236.10" x2="1137.40" y2="2236.10" stroke="#000" stroke-width="3.4" stroke-linecap="butt" />
<line x1="1131.40" y1="2173.80" x2="1137.40" y2="2173.80" stroke="#000" stroke-width="3.4" stroke-linecap="butt" />
<line x1="1169.40" y1="2734.50" x2="1169.40" y2="2740.50" stroke="#000" stroke-width="3.4" stroke-linecap="butt" />
<line x1="1269.10" y1="2734.50" x2="1269.10" y2="2745.00" stroke="#000" stroke-width="3.4" stroke-linecap="butt" />
<line x1="1368.80" y1="2734.50" x2="1368.80" y2="2740.50" stroke="#000" stroke-width="3.4" stroke-linecap="butt" />
<line x1="1468.50" y1="2734.50" x2="1468.50" y2="2745.00" stroke="#000" stroke-width="3.4" stroke-linecap="butt" />
<line x1="1568.20" y1="2734.50" x2="1568.20" y2="2740.50" stroke="#000" stroke-width="3.4" stroke-linecap="butt" />
<line x1="1667.90" y1="2734.50" x2="1667.90" y2="2745.00" stroke="#000" stroke-width="3.4" stroke-linecap="butt" />
<line x1="1767.60" y1="2734.50" x2="1767.60" y2="2740.50" stroke="#000" stroke-width="3.4" stroke-linecap="butt" />
<line x1="1867.30" y1="2734.50" x2="1867.30" y2="2745.00" stroke="#000" stroke-width="3.4" stroke-linecap="butt" />
<text x="1106.29" y="2743.61" style='font-family:"Liberation Sans", Arial, sans-serif;font-weight:normal;font-size:26.50px' fill="#000" textLength="14.74" lengthAdjust="spacingAndGlyphs" >0</text>
<text x="1076.81" y="2619.01" style='font-family:"Liberation Sans", Arial, sans-serif;font-weight:normal;font-size:26.50px' fill="#000" textLength="44.22" lengthAdjust="spacingAndGlyphs" >200</text>
<text x="1076.80" y="2494.41" style='font-family:"Liberation Sans", Arial, sans-serif;font-weight:normal;font-size:26.50px' fill="#000" textLength="44.22" lengthAdjust="spacingAndGlyphs" >400</text>
<text x="1076.81" y="2369.81" style='font-family:"Liberation Sans", Arial, sans-serif;font-weight:normal;font-size:26.50px' fill="#000" textLength="44.22" lengthAdjust="spacingAndGlyphs" >600</text>
<text x="1076.81" y="2245.21" style='font-family:"Liberation Sans", Arial, sans-serif;font-weight:normal;font-size:26.50px' fill="#000" textLength="44.22" lengthAdjust="spacingAndGlyphs" >800</text>
<text x="1251.97" y="2771.00" style='font-family:"Liberation Sans", Arial, sans-serif;font-weight:normal;font-size:25.00px' fill="#000" textLength="33.36" lengthAdjust="spacingAndGlyphs" >1.0</text>
<text x="1451.40" y="2771.00" style='font-family:"Liberation Sans", Arial, sans-serif;font-weight:normal;font-size:25.00px' fill="#000" textLength="33.36" lengthAdjust="spacingAndGlyphs" >1.5</text>
<text x="1651.07" y="2771.00" style='font-family:"Liberation Sans", Arial, sans-serif;font-weight:normal;font-size:25.00px' fill="#000" textLength="33.36" lengthAdjust="spacingAndGlyphs" >2.0</text>
<text x="1850.50" y="2771.00" style='font-family:"Liberation Sans", Arial, sans-serif;font-weight:normal;font-size:25.00px' fill="#000" textLength="33.36" lengthAdjust="spacingAndGlyphs" >2.5</text>
<text x="1462.56" y="2826.91" style='font-family:"Liberation Sans", Arial, sans-serif;font-weight:bold;font-size:38.50px' fill="#000" textLength="177.98" lengthAdjust="spacingAndGlyphs" >Log[R6G]</text>
<text x="0" y="0" transform="translate(1037.80,2558.77) rotate(-90)" style='font-family:"Liberation Sans", Arial, sans-serif;font-weight:bold;font-size:38.80px' fill="#000" textLength="233.15" lengthAdjust="spacingAndGlyphs" >Intensity/a.u.</text>
<text x="1167.26" y="2232.10" style='font-family:"Liberation Serif", "Times New Roman", serif;font-weight:bold;font-size:51.00px' fill="#000" textLength="263.63" lengthAdjust="spacingAndGlyphs" >y=332-125x</text>
<text x="1167.42" y="2300.00" style='font-family:"Liberation Serif", "Times New Roman", serif;font-weight:bold;font-size:51.50px' fill="#000" textLength="36.19" lengthAdjust="spacingAndGlyphs" >R</text>
<text x="1203.75" y="2282.00" style='font-family:"Liberation Serif", "Times New Roman", serif;font-weight:bold;font-size:36.00px' fill="#000" textLength="21.81" lengthAdjust="spacingAndGlyphs" >2</text>
<text x="1223.27" y="2300.00" style='font-family:"Liberation Serif", "Times New Roman", serif;font-weight:bold;font-size:51.50px' fill="#000" textLength="153.93" lengthAdjust="spacingAndGlyphs" >=0.999</text>
<line x1="1148.90" y1="2659.50" x2="1148.90" y2="2677.50" stroke="#000" stroke-width="7.5" stroke-linecap="butt" />
<line x1="1143.90" y1="2659.50" x2="1153.90" y2="2659.50" stroke="#000" stroke-width="8" stroke-linecap="round" />
<line x1="1143.90" y1="2677.50" x2="1153.90" y2="2677.50" stroke="#000" stroke-width="8" stroke-linecap="round" />
<rect x="1142.90" y="2663.10" width="12" height="10.4" fill="#000"/>
<line x1="1546.60" y1="2448.00" x2="1546.60" y2="2469.50" stroke="#000" stroke-width="7.5" stroke-linecap="butt" />
<line x1="1541.60" y1="2448.00" x2="1551.60" y2="2448.00" stroke="#000" stroke-width="8" stroke-linecap="round" />
<line x1="1541.60" y1="2469.50" x2="1551.60" y2="2469.50" stroke="#000" stroke-width="8" stroke-linecap="round" />
<rect x="1540.60" y="2453.40" width="12" height="10.4" fill="#000"/>
<line x1="1667.00" y1="2385.00" x2="1667.00" y2="2419.00" stroke="#000" stroke-width="7.5" stroke-linecap="butt" />
<line x1="1662.00" y1="2385.00" x2="1672.00" y2="2385.00" stroke="#000" stroke-width="8" stroke-linecap="round" />
<line x1="1662.00" y1="2419.00" x2="1672.00" y2="2419.00" stroke="#000" stroke-width="8" stroke-linecap="round" />
<rect x="1661.00" y="2396.80" width="12" height="10.4" fill="#000"/>
<line x1="1946.00" y1="2201.00" x2="1946.00" y2="2308.50" stroke="#000" stroke-width="7.5" stroke-linecap="butt" />
<line x1="1941.00" y1="2201.00" x2="1951.00" y2="2201.00" stroke="#000" stroke-width="8" stroke-linecap="round" />
<line x1="1941.00" y1="2308.50" x2="1951.00" y2="2308.50" stroke="#000" stroke-width="8" stroke-linecap="round" />
<rect x="1940.00" y="2249.20" width="12" height="10.4" fill="#000"/>
<line x1="1148.90" y1="2668.30" x2="1946.70" y2="2254.80" stroke="#ff0000" stroke-width="6.2" stroke-linecap="round" />
</svg></body></html>
